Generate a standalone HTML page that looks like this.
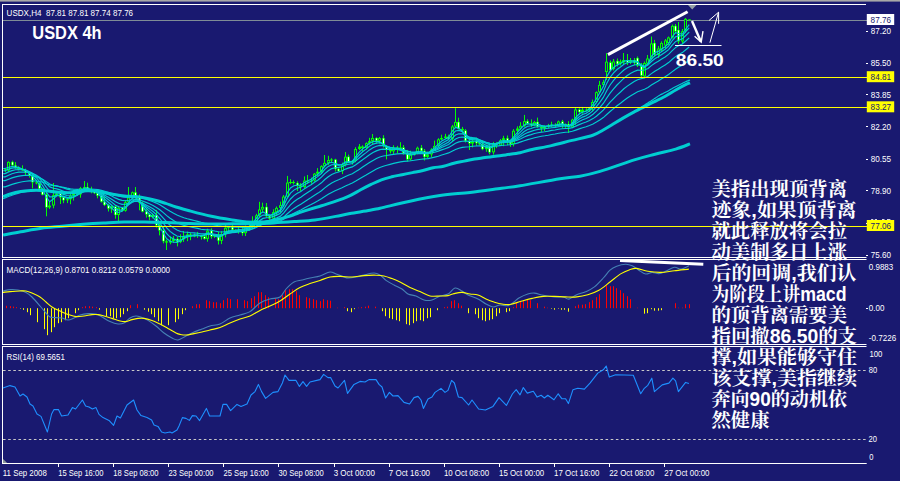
<!DOCTYPE html>
<html><head><meta charset="utf-8"><title>USDX 4h</title>
<style>
html,body{margin:0;padding:0;background:#191970;}
body{width:900px;height:483px;overflow:hidden;position:relative;font-family:"Liberation Sans",sans-serif;}
</style></head><body>
<svg width="900" height="483" viewBox="0 0 900 483" style="position:absolute;left:0;top:0;display:block">
<rect width="900" height="483" fill="#191970"/>
<rect x="0" y="0" width="900" height="1.6" fill="#a8a8a8"/>
<rect x="0" y="481" width="900" height="2" fill="#fff"/>
<g fill="#fff">
<rect x="2" y="4" width="864" height="1"/>
<rect x="2" y="4" width="1" height="254"/>
<rect x="2" y="257" width="864.5" height="1"/>
<rect x="2" y="259" width="864.5" height="1"/>
<rect x="2" y="259" width="1" height="86"/>
<rect x="2" y="344" width="864.5" height="1"/>
<rect x="2" y="346" width="864.5" height="1"/>
<rect x="2" y="346" width="1" height="118"/>
<rect x="2" y="463" width="864.7" height="1"/>
</g>
<path d="M3 459L7.2 463H3Z" fill="#8c9a9a"/>
<rect x="3" y="20" width="864" height="1" fill="#7f8c96"/>
<path d="M5.5 168.3V172.1M8.5 161.3V171.8M12.5 160.7V166.7M15.5 162.1V168.8M18.5 166.2V170.4M22.5 165.3V171.0M25.5 168.7V175.1M29.5 172.1V177.6M32.5 174.1V188.4M36.5 180.5V184.4M39.5 182.4V191.1M42.5 188.0V195.4M46.5 192.0V216.3M49.5 201.7V208.9M53.5 183.0V208.3M56.5 192.6V197.1M60.5 191.8V204.0M63.5 195.7V203.2M67.5 198.0V203.1M70.5 193.8V204.2M73.5 189.7V200.6M77.5 191.8V196.0M80.5 186.9V197.7M84.5 181.0V190.2M87.5 182.7V190.8M91.5 186.7V193.3M94.5 189.9V194.1M97.5 191.6V198.3M101.5 194.7V202.6M104.5 197.3V206.1M108.5 204.1V211.5M111.5 205.5V212.9M115.5 205.1V218.7M118.5 205.9V221.5M122.5 207.2V211.6M125.5 200.1V211.7M128.5 187.0V203.7M132.5 191.5V199.0M135.5 187.0V198.8M139.5 194.4V210.3M142.5 201.6V212.3M146.5 209.3V217.6M149.5 213.6V220.3M152.5 213.7V218.4M156.5 209.9V227.6M159.5 221.5V235.4M163.5 227.0V243.3M166.5 239.6V250.0M170.5 236.4V244.3M173.5 236.0V242.8M177.5 236.8V246.4M180.5 234.3V243.2M183.5 231.0V241.9M187.5 231.6V241.2M190.5 232.7V240.2M194.5 233.4V237.2M197.5 231.9V237.9M201.5 234.8V239.5M204.5 234.8V239.6M207.5 228.7V241.7M211.5 228.3V238.7M214.5 234.6V237.9M218.5 231.5V244.5M221.5 231.1V244.1M225.5 224.6V237.3M228.5 226.1V232.8M232.5 225.0V230.5M235.5 229.1V232.5M238.5 226.5V233.7M242.5 226.8V235.7M245.5 225.5V236.0M249.5 224.0V230.6M252.5 216.3V228.8M256.5 213.8V223.0M259.5 201.8V217.3M262.5 202.7V211.9M266.5 203.0V217.7M269.5 214.0V220.4M273.5 209.3V220.1M276.5 206.5V215.9M280.5 201.6V212.5M283.5 195.0V206.5M287.5 175.9V197.2M290.5 179.2V184.2M293.5 180.4V184.4M297.5 181.3V191.0M300.5 183.1V190.9M304.5 176.4V188.0M307.5 175.0V183.9M311.5 177.6V183.7M314.5 173.0V181.7M317.5 168.1V176.0M321.5 165.2V173.4M324.5 155.0V167.4M328.5 155.8V165.0M331.5 158.2V162.8M335.5 158.8V171.5M338.5 167.2V171.8M342.5 162.6V174.1M345.5 152.0V166.5M348.5 154.6V163.0M352.5 160.0V164.7M355.5 147.2V162.3M359.5 144.0V150.1M362.5 145.3V151.0M366.5 142.3V149.6M369.5 137.8V144.7M372.5 134.0V144.6M376.5 137.2V143.7M379.5 137.0V143.6M383.5 135.2V147.5M386.5 145.0V159.4M390.5 148.1V153.4M393.5 145.3V154.1M397.5 145.9V153.1M400.5 142.2V150.3M403.5 145.1V154.6M407.5 149.9V161.5M410.5 150.7V160.7M414.5 152.0V155.6M417.5 146.6V154.3M421.5 145.0V152.7M424.5 149.0V160.5M427.5 151.7V158.1M431.5 148.2V157.0M434.5 140.6V150.8M438.5 138.2V147.4M441.5 134.7V140.1M445.5 133.8V138.9M448.5 134.7V139.5M452.5 124.9V141.0M455.5 108.2V127.5M458.5 117.7V129.6M462.5 126.9V133.7M465.5 129.1V142.5M469.5 137.7V150.0M472.5 138.7V147.4M476.5 137.6V145.9M479.5 139.8V145.0M482.5 140.5V150.2M486.5 144.7V151.8M489.5 144.6V154.3M493.5 141.9V154.6M496.5 142.2V148.1M500.5 139.0V146.0M503.5 135.8V146.2M507.5 135.5V145.2M510.5 139.6V146.9M513.5 129.1V146.4M517.5 126.3V134.1M520.5 122.2V129.7M524.5 114.9V126.9M527.5 119.3V124.7M531.5 119.4V127.0M534.5 120.9V126.2M537.5 117.6V127.8M541.5 125.5V131.7M544.5 125.2V131.1M548.5 123.9V128.2M551.5 121.7V127.1M555.5 123.2V127.6M558.5 120.6V126.9M562.5 119.9V127.9M565.5 123.4V127.9M568.5 121.2V133.0M572.5 118.7V128.2M575.5 107.6V124.9M579.5 108.3V114.7M582.5 106.9V113.7M586.5 108.3V111.2M589.5 106.9V112.0M592.5 99.6V111.5M596.5 91.4V103.1M599.5 80.9V93.5M603.5 79.8V86.7M606.5 53.1V80.0M610.5 60.5V71.5M613.5 59.0V70.5M617.5 58.5V66.5M620.5 59.5V65.5M623.5 53.0V64.0M627.5 54.0V65.0M630.5 58.0V64.0M634.5 58.0V65.0M637.5 56.5V67.0M641.5 63.0V77.0M644.5 61.5V77.5M647.5 55.0V66.0M651.5 36.5V59.5M654.5 39.9V57.0M658.5 46.0V58.0M661.5 41.4V52.0M665.5 39.0V48.5M668.5 36.5V45.0M672.5 24.5V38.5M675.5 24.0V33.5M678.5 22.0V43.8M682.5 29.0V43.0M685.5 18.0V33.0M689.5 19.4V20.4" stroke="#00ff00" stroke-width="1" fill="none"/>
<g fill="#00ff00">
<rect x="7.0" y="161.9" width="3" height="8.6"/>
<rect x="48.0" y="205.6" width="3" height="1.8"/>
<rect x="52.0" y="195.1" width="3" height="10.4"/>
<rect x="55.0" y="193.5" width="3" height="1.7"/>
<rect x="66.0" y="199.2" width="3" height="1.1"/>
<rect x="69.0" y="195.6" width="3" height="3.6"/>
<rect x="72.0" y="193.4" width="3" height="2.2"/>
<rect x="79.0" y="188.2" width="3" height="6.2"/>
<rect x="83.0" y="187.1" width="3" height="1.1"/>
<rect x="110.0" y="206.5" width="3" height="2.2"/>
<rect x="117.0" y="207.9" width="3" height="7.1"/>
<rect x="124.0" y="202.2" width="3" height="8.5"/>
<rect x="127.0" y="197.5" width="3" height="4.7"/>
<rect x="131.0" y="192.3" width="3" height="5.2"/>
<rect x="151.0" y="214.9" width="3" height="2.2"/>
<rect x="169.0" y="241.0" width="3" height="1.6"/>
<rect x="172.0" y="238.8" width="3" height="2.2"/>
<rect x="179.0" y="239.4" width="3" height="2.7"/>
<rect x="182.0" y="236.9" width="3" height="2.5"/>
<rect x="186.0" y="234.4" width="3" height="2.5"/>
<rect x="193.0" y="234.9" width="3" height="1.6"/>
<rect x="206.0" y="230.7" width="3" height="8.1"/>
<rect x="213.0" y="235.5" width="3" height="1.0"/>
<rect x="220.0" y="234.0" width="3" height="6.8"/>
<rect x="224.0" y="227.8" width="3" height="6.2"/>
<rect x="227.0" y="226.8" width="3" height="1.0"/>
<rect x="237.0" y="230.5" width="3" height="1.0"/>
<rect x="244.0" y="227.2" width="3" height="5.9"/>
<rect x="248.0" y="226.2" width="3" height="1.0"/>
<rect x="251.0" y="221.3" width="3" height="4.9"/>
<rect x="255.0" y="215.4" width="3" height="5.9"/>
<rect x="258.0" y="209.5" width="3" height="5.9"/>
<rect x="261.0" y="206.9" width="3" height="2.6"/>
<rect x="272.0" y="212.1" width="3" height="6.5"/>
<rect x="275.0" y="207.9" width="3" height="4.1"/>
<rect x="279.0" y="205.2" width="3" height="2.7"/>
<rect x="282.0" y="196.6" width="3" height="8.6"/>
<rect x="286.0" y="182.6" width="3" height="13.9"/>
<rect x="289.0" y="182.0" width="3" height="1.0"/>
<rect x="303.0" y="180.6" width="3" height="6.4"/>
<rect x="310.0" y="180.6" width="3" height="1.0"/>
<rect x="313.0" y="173.7" width="3" height="6.8"/>
<rect x="316.0" y="171.7" width="3" height="2.0"/>
<rect x="320.0" y="166.2" width="3" height="5.4"/>
<rect x="323.0" y="162.9" width="3" height="3.4"/>
<rect x="327.0" y="160.1" width="3" height="2.8"/>
<rect x="330.0" y="159.5" width="3" height="1.0"/>
<rect x="341.0" y="164.8" width="3" height="6.3"/>
<rect x="344.0" y="156.7" width="3" height="8.1"/>
<rect x="351.0" y="160.8" width="3" height="1.4"/>
<rect x="354.0" y="149.0" width="3" height="11.7"/>
<rect x="358.0" y="146.5" width="3" height="2.5"/>
<rect x="365.0" y="143.2" width="3" height="4.8"/>
<rect x="368.0" y="141.1" width="3" height="2.1"/>
<rect x="371.0" y="138.0" width="3" height="3.1"/>
<rect x="378.0" y="138.1" width="3" height="2.7"/>
<rect x="392.0" y="147.5" width="3" height="3.8"/>
<rect x="399.0" y="147.5" width="3" height="1.9"/>
<rect x="409.0" y="154.8" width="3" height="4.5"/>
<rect x="413.0" y="152.6" width="3" height="2.2"/>
<rect x="416.0" y="147.8" width="3" height="4.8"/>
<rect x="426.0" y="154.4" width="3" height="2.5"/>
<rect x="430.0" y="149.5" width="3" height="4.9"/>
<rect x="433.0" y="145.9" width="3" height="3.6"/>
<rect x="437.0" y="139.4" width="3" height="6.4"/>
<rect x="440.0" y="138.0" width="3" height="1.4"/>
<rect x="444.0" y="136.6" width="3" height="1.4"/>
<rect x="451.0" y="126.5" width="3" height="12.3"/>
<rect x="454.0" y="121.9" width="3" height="4.6"/>
<rect x="471.0" y="140.9" width="3" height="2.6"/>
<rect x="485.0" y="146.9" width="3" height="2.2"/>
<rect x="492.0" y="144.3" width="3" height="8.0"/>
<rect x="499.0" y="140.4" width="3" height="5.0"/>
<rect x="502.0" y="138.2" width="3" height="2.2"/>
<rect x="512.0" y="130.8" width="3" height="13.1"/>
<rect x="516.0" y="128.5" width="3" height="2.3"/>
<rect x="519.0" y="125.8" width="3" height="2.6"/>
<rect x="523.0" y="121.2" width="3" height="4.7"/>
<rect x="533.0" y="121.9" width="3" height="3.5"/>
<rect x="543.0" y="126.7" width="3" height="1.8"/>
<rect x="547.0" y="125.7" width="3" height="1.0"/>
<rect x="550.0" y="124.7" width="3" height="1.0"/>
<rect x="557.0" y="121.5" width="3" height="4.2"/>
<rect x="564.0" y="124.1" width="3" height="1.0"/>
<rect x="571.0" y="119.6" width="3" height="7.7"/>
<rect x="574.0" y="109.5" width="3" height="10.1"/>
<rect x="581.0" y="109.7" width="3" height="2.3"/>
<rect x="588.0" y="108.1" width="3" height="2.3"/>
<rect x="591.0" y="102.0" width="3" height="6.1"/>
<rect x="595.0" y="92.2" width="3" height="9.7"/>
<rect x="598.0" y="84.9" width="3" height="7.3"/>
<rect x="602.0" y="82.2" width="3" height="2.7"/>
<rect x="605.0" y="61.7" width="3" height="10.3"/>
<rect x="612.0" y="61.5" width="3" height="7.5"/>
<rect x="619.0" y="61.5" width="3" height="2.0"/>
<rect x="622.0" y="60.0" width="3" height="2.5"/>
<rect x="629.0" y="60.0" width="3" height="2.5"/>
<rect x="643.0" y="63.0" width="3" height="13.4"/>
<rect x="646.0" y="58.5" width="3" height="5.0"/>
<rect x="650.0" y="43.5" width="3" height="14.9"/>
<rect x="657.0" y="48.5" width="3" height="6.5"/>
<rect x="660.0" y="43.0" width="3" height="6.5"/>
<rect x="664.0" y="40.5" width="3" height="5.0"/>
<rect x="667.0" y="37.5" width="3" height="5.5"/>
<rect x="671.0" y="25.9" width="3" height="11.6"/>
<rect x="681.0" y="31.3" width="3" height="10.1"/>
<rect x="684.0" y="18.9" width="3" height="12.1"/>
<rect x="688.0" y="19.4" width="3" height="1.0"/>
<rect x="4.0" y="169.4" width="3" height="1.1"/>
<rect x="11.0" y="161.9" width="3" height="3.3"/>
<rect x="14.0" y="165.3" width="3" height="2.2"/>
<rect x="17.0" y="167.5" width="3" height="1.4"/>
<rect x="21.0" y="168.9" width="3" height="1.4"/>
<rect x="24.0" y="170.3" width="3" height="2.4"/>
<rect x="28.0" y="172.7" width="3" height="2.8"/>
<rect x="31.0" y="175.4" width="3" height="6.9"/>
<rect x="35.0" y="182.4" width="3" height="1.0"/>
<rect x="38.0" y="183.4" width="3" height="5.3"/>
<rect x="41.0" y="188.6" width="3" height="6.2"/>
<rect x="45.0" y="194.8" width="3" height="12.6"/>
<rect x="59.0" y="193.5" width="3" height="3.9"/>
<rect x="62.0" y="197.3" width="3" height="3.0"/>
<rect x="76.0" y="193.4" width="3" height="1.0"/>
<rect x="86.0" y="187.1" width="3" height="2.2"/>
<rect x="90.0" y="189.3" width="3" height="1.6"/>
<rect x="93.0" y="191.0" width="3" height="2.1"/>
<rect x="96.0" y="193.1" width="3" height="2.6"/>
<rect x="100.0" y="195.7" width="3" height="6.0"/>
<rect x="103.0" y="201.7" width="3" height="3.3"/>
<rect x="107.0" y="205.0" width="3" height="3.6"/>
<rect x="114.0" y="206.5" width="3" height="8.5"/>
<rect x="121.0" y="207.9" width="3" height="2.8"/>
<rect x="134.0" y="192.3" width="3" height="4.4"/>
<rect x="138.0" y="196.7" width="3" height="6.1"/>
<rect x="141.0" y="202.9" width="3" height="8.7"/>
<rect x="145.0" y="211.5" width="3" height="2.9"/>
<rect x="148.0" y="214.4" width="3" height="2.6"/>
<rect x="155.0" y="214.9" width="3" height="10.5"/>
<rect x="158.0" y="225.3" width="3" height="5.2"/>
<rect x="162.0" y="230.6" width="3" height="10.6"/>
<rect x="165.0" y="241.2" width="3" height="1.4"/>
<rect x="176.0" y="238.8" width="3" height="3.3"/>
<rect x="189.0" y="234.4" width="3" height="2.1"/>
<rect x="196.0" y="234.9" width="3" height="1.0"/>
<rect x="200.0" y="235.9" width="3" height="1.0"/>
<rect x="203.0" y="236.5" width="3" height="2.3"/>
<rect x="210.0" y="230.7" width="3" height="5.8"/>
<rect x="217.0" y="235.5" width="3" height="5.2"/>
<rect x="231.0" y="226.8" width="3" height="3.0"/>
<rect x="234.0" y="229.8" width="3" height="1.6"/>
<rect x="241.0" y="230.5" width="3" height="2.6"/>
<rect x="265.0" y="206.9" width="3" height="9.3"/>
<rect x="268.0" y="216.1" width="3" height="2.5"/>
<rect x="292.0" y="182.0" width="3" height="1.0"/>
<rect x="296.0" y="183.0" width="3" height="2.3"/>
<rect x="299.0" y="185.4" width="3" height="1.6"/>
<rect x="306.0" y="180.6" width="3" height="1.0"/>
<rect x="334.0" y="159.5" width="3" height="9.4"/>
<rect x="337.0" y="168.9" width="3" height="2.2"/>
<rect x="347.0" y="156.7" width="3" height="5.5"/>
<rect x="361.0" y="146.5" width="3" height="1.6"/>
<rect x="375.0" y="138.0" width="3" height="2.8"/>
<rect x="382.0" y="138.1" width="3" height="7.6"/>
<rect x="385.0" y="145.7" width="3" height="3.8"/>
<rect x="389.0" y="149.5" width="3" height="1.8"/>
<rect x="396.0" y="147.5" width="3" height="1.9"/>
<rect x="402.0" y="147.5" width="3" height="5.7"/>
<rect x="406.0" y="153.3" width="3" height="6.1"/>
<rect x="420.0" y="147.8" width="3" height="3.1"/>
<rect x="423.0" y="150.9" width="3" height="6.0"/>
<rect x="447.0" y="136.6" width="3" height="2.2"/>
<rect x="457.0" y="121.9" width="3" height="7.0"/>
<rect x="461.0" y="128.9" width="3" height="1.6"/>
<rect x="464.0" y="130.5" width="3" height="10.4"/>
<rect x="468.0" y="140.9" width="3" height="2.6"/>
<rect x="475.0" y="140.9" width="3" height="2.2"/>
<rect x="478.0" y="143.1" width="3" height="1.2"/>
<rect x="481.0" y="144.4" width="3" height="4.7"/>
<rect x="488.0" y="146.9" width="3" height="5.5"/>
<rect x="495.0" y="144.3" width="3" height="1.0"/>
<rect x="506.0" y="138.2" width="3" height="3.5"/>
<rect x="509.0" y="141.7" width="3" height="2.2"/>
<rect x="526.0" y="121.2" width="3" height="2.4"/>
<rect x="530.0" y="123.5" width="3" height="1.9"/>
<rect x="536.0" y="121.9" width="3" height="4.9"/>
<rect x="540.0" y="126.9" width="3" height="1.6"/>
<rect x="554.0" y="124.7" width="3" height="1.0"/>
<rect x="561.0" y="121.5" width="3" height="3.6"/>
<rect x="567.0" y="124.1" width="3" height="3.2"/>
<rect x="578.0" y="109.5" width="3" height="2.6"/>
<rect x="585.0" y="109.7" width="3" height="1.0"/>
<rect x="609.0" y="62.4" width="3" height="7.8"/>
<rect x="616.0" y="61.0" width="3" height="3.0"/>
<rect x="626.0" y="60.5" width="3" height="2.0"/>
<rect x="633.0" y="60.2" width="3" height="2.6"/>
<rect x="636.0" y="58.0" width="3" height="7.5"/>
<rect x="640.0" y="65.5" width="3" height="10.1"/>
<rect x="653.0" y="43.0" width="3" height="11.7"/>
<rect x="674.0" y="25.9" width="3" height="5.4"/>
<rect x="677.0" y="30.0" width="3" height="11.4"/>
</g>
<g fill="#191970">
<rect x="8.0" y="162.8" width="1" height="6.8"/>
<rect x="53.0" y="196.0" width="1" height="8.6"/>
<rect x="70.0" y="196.5" width="1" height="1.8"/>
<rect x="80.0" y="189.1" width="1" height="4.4"/>
<rect x="118.0" y="208.8" width="1" height="5.3"/>
<rect x="125.0" y="203.1" width="1" height="6.7"/>
<rect x="128.0" y="198.4" width="1" height="2.9"/>
<rect x="132.0" y="193.2" width="1" height="3.4"/>
<rect x="180.0" y="240.3" width="1" height="0.9"/>
<rect x="207.0" y="231.6" width="1" height="6.3"/>
<rect x="221.0" y="234.9" width="1" height="5.0"/>
<rect x="225.0" y="228.7" width="1" height="4.4"/>
<rect x="245.0" y="228.1" width="1" height="4.1"/>
<rect x="252.0" y="222.2" width="1" height="3.1"/>
<rect x="256.0" y="216.3" width="1" height="4.1"/>
<rect x="259.0" y="210.4" width="1" height="4.1"/>
<rect x="262.0" y="207.8" width="1" height="0.8"/>
<rect x="273.0" y="213.0" width="1" height="4.7"/>
<rect x="276.0" y="208.8" width="1" height="2.3"/>
<rect x="280.0" y="206.1" width="1" height="0.9"/>
<rect x="283.0" y="197.5" width="1" height="6.8"/>
<rect x="287.0" y="183.5" width="1" height="12.1"/>
<rect x="304.0" y="181.5" width="1" height="4.6"/>
<rect x="314.0" y="174.6" width="1" height="5.0"/>
<rect x="321.0" y="167.1" width="1" height="3.6"/>
<rect x="324.0" y="163.8" width="1" height="1.6"/>
<rect x="328.0" y="161.0" width="1" height="1.0"/>
<rect x="342.0" y="165.7" width="1" height="4.5"/>
<rect x="345.0" y="157.6" width="1" height="6.3"/>
<rect x="355.0" y="149.9" width="1" height="9.9"/>
<rect x="366.0" y="144.1" width="1" height="3.0"/>
<rect x="372.0" y="138.9" width="1" height="1.3"/>
<rect x="379.0" y="139.0" width="1" height="0.9"/>
<rect x="393.0" y="148.4" width="1" height="2.0"/>
<rect x="410.0" y="155.7" width="1" height="2.7"/>
<rect x="417.0" y="148.7" width="1" height="3.0"/>
<rect x="431.0" y="150.4" width="1" height="3.1"/>
<rect x="434.0" y="146.8" width="1" height="1.8"/>
<rect x="438.0" y="140.3" width="1" height="4.6"/>
<rect x="452.0" y="127.4" width="1" height="10.5"/>
<rect x="455.0" y="122.8" width="1" height="2.8"/>
<rect x="493.0" y="145.2" width="1" height="6.2"/>
<rect x="500.0" y="141.3" width="1" height="3.2"/>
<rect x="513.0" y="131.7" width="1" height="11.3"/>
<rect x="520.0" y="126.7" width="1" height="0.8"/>
<rect x="524.0" y="122.1" width="1" height="2.9"/>
<rect x="534.0" y="122.8" width="1" height="1.7"/>
<rect x="558.0" y="122.4" width="1" height="2.4"/>
<rect x="572.0" y="120.5" width="1" height="5.9"/>
<rect x="575.0" y="110.4" width="1" height="8.3"/>
<rect x="592.0" y="102.9" width="1" height="4.3"/>
<rect x="596.0" y="93.1" width="1" height="7.9"/>
<rect x="599.0" y="85.8" width="1" height="5.5"/>
<rect x="603.0" y="83.1" width="1" height="0.9"/>
<rect x="606.0" y="62.6" width="1" height="8.5"/>
<rect x="613.0" y="62.4" width="1" height="5.7"/>
<rect x="644.0" y="63.9" width="1" height="11.6"/>
<rect x="647.0" y="59.4" width="1" height="3.2"/>
<rect x="651.0" y="44.4" width="1" height="13.1"/>
<rect x="658.0" y="49.4" width="1" height="4.7"/>
<rect x="661.0" y="43.9" width="1" height="4.7"/>
<rect x="665.0" y="41.4" width="1" height="3.2"/>
<rect x="668.0" y="38.4" width="1" height="3.7"/>
<rect x="672.0" y="26.8" width="1" height="9.8"/>
<rect x="682.0" y="32.2" width="1" height="8.3"/>
<rect x="685.0" y="19.8" width="1" height="10.3"/>
</g>
<g fill="#fff">
<rect x="12.0" y="162.4" width="1" height="2.3"/>
<rect x="15.0" y="165.8" width="1" height="1.2"/>
<rect x="25.0" y="170.8" width="1" height="1.4"/>
<rect x="29.0" y="173.2" width="1" height="1.8"/>
<rect x="32.0" y="175.9" width="1" height="5.9"/>
<rect x="39.0" y="183.9" width="1" height="4.3"/>
<rect x="42.0" y="189.1" width="1" height="5.2"/>
<rect x="46.0" y="195.3" width="1" height="11.6"/>
<rect x="60.0" y="194.0" width="1" height="2.9"/>
<rect x="63.0" y="197.8" width="1" height="2.0"/>
<rect x="87.0" y="187.6" width="1" height="1.2"/>
<rect x="94.0" y="191.5" width="1" height="1.1"/>
<rect x="97.0" y="193.6" width="1" height="1.6"/>
<rect x="101.0" y="196.2" width="1" height="5.0"/>
<rect x="104.0" y="202.2" width="1" height="2.3"/>
<rect x="108.0" y="205.5" width="1" height="2.6"/>
<rect x="115.0" y="207.0" width="1" height="7.5"/>
<rect x="122.0" y="208.4" width="1" height="1.8"/>
<rect x="135.0" y="192.8" width="1" height="3.4"/>
<rect x="139.0" y="197.2" width="1" height="5.1"/>
<rect x="142.0" y="203.4" width="1" height="7.7"/>
<rect x="146.0" y="212.0" width="1" height="1.9"/>
<rect x="149.0" y="214.9" width="1" height="1.6"/>
<rect x="156.0" y="215.4" width="1" height="9.5"/>
<rect x="159.0" y="225.8" width="1" height="4.2"/>
<rect x="163.0" y="231.1" width="1" height="9.6"/>
<rect x="177.0" y="239.3" width="1" height="2.3"/>
<rect x="190.0" y="234.9" width="1" height="1.1"/>
<rect x="204.0" y="237.0" width="1" height="1.3"/>
<rect x="211.0" y="231.2" width="1" height="4.8"/>
<rect x="218.0" y="236.0" width="1" height="4.2"/>
<rect x="232.0" y="227.3" width="1" height="2.0"/>
<rect x="242.0" y="231.0" width="1" height="1.6"/>
<rect x="266.0" y="207.4" width="1" height="8.3"/>
<rect x="269.0" y="216.6" width="1" height="1.5"/>
<rect x="297.0" y="183.5" width="1" height="1.3"/>
<rect x="335.0" y="160.0" width="1" height="8.4"/>
<rect x="338.0" y="169.4" width="1" height="1.2"/>
<rect x="348.0" y="157.2" width="1" height="4.5"/>
<rect x="376.0" y="138.5" width="1" height="1.8"/>
<rect x="383.0" y="138.6" width="1" height="6.6"/>
<rect x="386.0" y="146.2" width="1" height="2.8"/>
<rect x="397.0" y="148.0" width="1" height="0.9"/>
<rect x="403.0" y="148.0" width="1" height="4.7"/>
<rect x="407.0" y="153.8" width="1" height="5.1"/>
<rect x="421.0" y="148.3" width="1" height="2.1"/>
<rect x="424.0" y="151.4" width="1" height="5.0"/>
<rect x="448.0" y="137.1" width="1" height="1.2"/>
<rect x="458.0" y="122.4" width="1" height="6.0"/>
<rect x="465.0" y="131.0" width="1" height="9.4"/>
<rect x="469.0" y="141.4" width="1" height="1.6"/>
<rect x="476.0" y="141.4" width="1" height="1.2"/>
<rect x="482.0" y="144.9" width="1" height="3.7"/>
<rect x="489.0" y="147.4" width="1" height="4.5"/>
<rect x="507.0" y="138.7" width="1" height="2.5"/>
<rect x="510.0" y="142.2" width="1" height="1.2"/>
<rect x="527.0" y="121.7" width="1" height="1.4"/>
<rect x="531.0" y="124.0" width="1" height="0.9"/>
<rect x="537.0" y="122.4" width="1" height="3.9"/>
<rect x="562.0" y="122.0" width="1" height="2.6"/>
<rect x="568.0" y="124.6" width="1" height="2.2"/>
<rect x="579.0" y="110.0" width="1" height="1.6"/>
<rect x="610.0" y="62.9" width="1" height="6.8"/>
<rect x="617.0" y="61.5" width="1" height="2.0"/>
<rect x="627.0" y="61.0" width="1" height="1.0"/>
<rect x="634.0" y="60.7" width="1" height="1.6"/>
<rect x="637.0" y="58.5" width="1" height="6.5"/>
<rect x="641.0" y="66.0" width="1" height="9.1"/>
<rect x="654.0" y="43.5" width="1" height="10.7"/>
<rect x="675.0" y="26.4" width="1" height="4.4"/>
<rect x="678.0" y="30.5" width="1" height="10.4"/>
</g>
<path d="M3.1 235.0C6.0 234.5 14.3 232.9 20.7 231.8C27.1 230.7 34.5 229.2 41.4 228.3C48.3 227.4 55.2 226.9 62.1 226.2C69.0 225.5 76.0 224.8 82.9 224.2C89.8 223.6 96.7 223.2 103.6 222.9C110.5 222.6 117.4 222.2 124.3 222.1C131.2 222.0 138.1 222.0 145.0 222.1C151.9 222.2 158.1 222.3 165.7 222.5C173.3 222.7 183.1 223.2 190.7 223.5C198.3 223.8 204.5 223.9 211.4 224.0C218.3 224.1 225.2 223.9 232.1 223.8C239.0 223.7 246.0 223.8 252.9 223.6C259.8 223.4 266.7 223.2 273.6 222.9C280.5 222.6 287.4 222.1 294.3 221.6C301.2 221.1 308.1 220.8 315.0 219.9C321.9 219.0 329.9 217.5 335.7 216.4C341.5 215.3 344.3 214.6 350.0 213.6C355.7 212.6 365.0 211.2 370.0 210.3C375.0 209.4 373.3 209.7 380.0 208.2C386.7 206.7 400.0 203.3 410.0 201.2C420.0 199.1 430.0 197.1 440.0 195.6C450.0 194.1 459.7 193.6 470.0 192.4C480.3 191.2 493.3 189.3 501.6 188.2C509.9 187.1 510.3 187.4 520.0 185.8C529.7 184.2 550.0 180.4 560.0 178.8C570.0 177.2 573.3 177.4 580.0 176.2C586.7 175.0 591.0 174.1 600.0 171.4C609.0 168.7 625.1 162.8 634.3 159.9C643.5 157.0 648.1 156.0 655.0 154.2C661.9 152.4 669.9 150.8 675.7 149.1C681.5 147.4 687.6 144.8 690.0 143.9" fill="none" stroke="#00ced1" stroke-width="3" stroke-linecap="butt"/>
<path d="M3.1 196.6C4.3 196.2 7.5 194.8 10.4 193.9C13.3 193.0 17.3 192.0 20.7 191.4C24.1 190.8 27.6 190.6 31.0 190.4C34.5 190.2 37.9 190.2 41.4 190.4C44.9 190.6 48.3 191.1 51.8 191.4C55.2 191.8 58.6 192.3 62.1 192.5C65.5 192.7 69.0 192.8 72.5 192.5C76.0 192.2 79.5 191.2 82.9 191.0C86.4 190.8 89.8 190.8 93.2 191.0C96.7 191.2 100.1 191.9 103.6 192.5C107.0 193.1 110.5 193.9 113.9 194.5C117.4 195.1 120.8 195.7 124.3 196.0C127.8 196.3 131.2 196.3 134.6 196.6C138.0 196.9 141.6 197.4 145.0 198.0C148.4 198.6 151.9 199.4 155.3 200.3C158.8 201.2 162.2 202.3 165.7 203.4C169.1 204.5 171.8 205.7 176.0 207.0C180.2 208.3 184.8 209.5 190.7 211.1C196.6 212.7 204.5 214.8 211.4 216.3C218.3 217.8 226.2 219.0 232.1 219.9C238.0 220.8 241.6 221.7 246.6 222.0C251.6 222.3 258.2 222.1 262.1 222.0C266.0 221.9 267.3 221.6 269.9 221.2C272.5 220.8 275.0 220.0 277.6 219.4C280.2 218.8 282.8 218.1 285.4 217.4C288.0 216.7 290.6 215.9 293.2 215.0C295.8 214.1 298.3 213.1 300.9 212.2C303.5 211.3 306.1 210.4 308.7 209.6C311.3 208.8 313.7 208.1 316.5 207.3C319.3 206.5 322.6 205.4 325.3 204.6C328.1 203.8 330.3 203.1 333.0 202.2C335.7 201.3 338.7 200.3 341.5 199.2C344.3 198.1 346.8 197.3 350.0 195.7C353.2 194.1 357.2 191.7 360.7 189.8C364.2 187.9 367.7 186.1 371.1 184.4C374.6 182.8 377.9 181.2 381.4 179.9C384.8 178.6 388.4 177.7 391.8 176.8C395.2 175.9 398.7 175.4 402.1 174.7C405.6 174.0 409.0 173.3 412.5 172.6C416.0 171.9 419.4 171.3 422.9 170.5C426.3 169.7 429.8 168.5 433.2 167.8C436.6 167.1 440.2 167.1 443.6 166.3C447.1 165.5 450.4 164.1 453.9 163.2C457.3 162.3 460.9 161.8 464.3 161.1C467.8 160.4 471.2 159.6 474.6 159.0C478.1 158.4 481.6 158.1 485.0 157.6C488.4 157.1 491.9 156.8 495.3 156.3C498.8 155.8 501.6 155.5 505.7 154.9C509.8 154.3 515.8 153.7 520.0 152.8C524.2 151.9 525.5 150.9 530.7 149.7C535.9 148.5 544.5 147.2 551.4 145.6C558.3 144.0 565.2 142.1 572.1 140.4C579.0 138.7 587.6 136.9 592.8 135.2C598.0 133.5 599.7 131.9 603.2 130.0C606.7 128.1 610.2 125.9 613.6 123.8C617.0 121.7 620.5 119.6 623.9 117.6C627.3 115.6 630.8 113.6 634.3 111.8C637.8 110.0 641.1 108.3 644.6 106.6C648.1 104.9 651.5 103.1 655.0 101.4C658.5 99.7 661.8 98.1 665.3 96.2C668.8 94.3 672.2 92.0 675.7 90.0C679.2 88.0 683.6 85.6 686.0 84.4C688.4 83.2 689.3 83.1 690.0 82.8" fill="none" stroke="#00ced1" stroke-width="3"/>
<path d="M3.0 198.8C3.5 198.6 5.0 198.0 6.0 197.6C7.0 197.1 8.0 196.7 9.0 196.3C10.0 195.9 11.0 195.5 12.0 195.2C13.0 194.9 14.0 194.6 15.0 194.3C16.0 194.0 17.0 193.7 18.0 193.4C19.0 193.1 20.0 192.7 21.0 192.5C22.0 192.3 23.0 192.2 24.0 192.0C25.0 191.8 26.0 191.6 27.0 191.5C28.0 191.3 29.0 191.1 30.0 190.9C31.0 190.8 32.0 190.7 33.0 190.6C34.0 190.5 35.0 190.4 36.0 190.4C37.0 190.4 38.0 190.4 39.0 190.4C40.0 190.4 41.0 190.4 42.0 190.5C43.0 190.5 44.0 190.7 45.0 190.7C46.0 190.8 47.0 190.9 48.0 191.0C49.0 191.1 50.0 191.2 51.0 191.3C52.0 191.4 53.0 191.5 54.0 191.6C55.0 191.7 56.0 191.8 57.0 192.0C58.0 192.1 59.0 192.2 60.0 192.3C61.0 192.4 62.0 192.5 63.0 192.5C64.0 192.5 65.0 192.5 66.0 192.5C67.0 192.5 68.0 192.5 69.0 192.5C70.0 192.5 71.0 192.6 72.0 192.5C73.0 192.4 74.0 192.3 75.0 192.1C76.0 192.0 77.0 191.9 78.0 191.7C79.0 191.6 80.0 191.4 81.0 191.3C82.0 191.2 83.0 191.0 84.0 191.0C85.0 191.0 86.0 191.0 87.0 191.0C88.0 191.0 89.0 191.0 90.0 191.0C91.0 191.0 92.0 190.9 93.0 191.0C94.0 191.1 95.0 191.3 96.0 191.4C97.0 191.5 98.0 191.7 99.0 191.8C100.0 192.0 101.0 192.1 102.0 192.3C103.0 192.4 104.0 192.6 105.0 192.8C106.0 193.0 107.0 193.2 108.0 193.4C109.0 193.5 110.0 193.7 111.0 193.9C112.0 194.1 113.0 194.3 114.0 194.5C115.0 194.7 116.0 194.8 117.0 194.9C118.0 195.1 119.0 195.2 120.0 195.4C121.0 195.5 122.0 195.7 123.0 195.8C124.0 195.9 125.0 196.0 126.0 196.1C127.0 196.2 128.0 196.2 129.0 196.3C130.0 196.3 131.0 196.4 132.0 196.4C133.0 196.5 134.0 196.6 135.0 196.7C136.0 196.8 137.0 196.9 138.0 197.1C139.0 197.2 140.0 197.3 141.0 197.5C142.0 197.6 143.0 197.7 144.0 197.9C145.0 198.0 146.0 198.2 147.0 198.4C148.0 198.7 149.0 198.9 150.0 199.1C151.0 199.3 152.0 199.6 153.0 199.8C154.0 200.0 155.0 200.2 156.0 200.5C157.0 200.8 158.0 201.1 159.0 201.4C160.0 201.7 161.0 202.0 162.0 202.3C163.0 202.6 164.0 202.9 165.0 203.2C166.0 203.5 167.0 203.9 168.0 204.2C169.0 204.5 170.0 204.9 171.0 205.3C172.0 205.6 173.0 206.0 174.0 206.3C175.0 206.6 176.0 207.0 177.0 207.3C178.0 207.6 179.0 207.8 180.0 208.1C181.0 208.4 182.0 208.7 183.0 209.0C184.0 209.2 185.0 209.5 186.0 209.8C187.0 210.1 188.0 210.4 189.0 210.6C190.0 210.9 191.0 211.2 192.0 211.4C193.0 211.7 194.0 211.9 195.0 212.2C196.0 212.4 197.0 212.7 198.0 212.9C199.0 213.2 200.0 213.4 201.0 213.7C202.0 213.9 203.0 214.2 204.0 214.4C205.0 214.7 206.0 214.9 207.0 215.2C208.0 215.4 209.0 215.7 210.0 215.9C211.0 216.2 212.0 216.4 213.0 216.6C214.0 216.8 215.0 216.9 216.0 217.1C217.0 217.3 218.0 217.4 219.0 217.6C220.0 217.8 221.0 218.0 222.0 218.1C223.0 218.3 224.0 218.5 225.0 218.7C226.0 218.8 227.0 219.0 228.0 219.2C229.0 219.4 230.0 219.5 231.0 219.7C232.0 219.9 233.0 220.0 234.0 220.2C235.0 220.3 236.0 220.5 237.0 220.6C238.0 220.8 239.0 220.9 240.0 221.0C241.0 221.2 242.0 221.3 243.0 221.5C244.0 221.6 245.0 221.8 246.0 221.9C247.0 222.0 248.0 222.0 249.0 222.0C250.0 222.0 251.0 222.0 252.0 222.0C253.0 222.0 254.0 222.0 255.0 222.0C256.0 222.0 257.0 222.0 258.0 222.0C259.0 222.0 260.0 222.0 261.0 222.0C262.0 222.0 263.0 221.9 264.0 221.8C265.0 221.7 266.0 221.6 267.0 221.5C268.0 221.4 269.0 221.3 270.0 221.2C271.0 221.0 272.0 220.7 273.0 220.5C274.0 220.2 275.0 220.0 276.0 219.8C277.0 219.5 278.0 219.3 279.0 219.0C280.0 218.8 281.0 218.5 282.0 218.3C283.0 218.0 284.0 217.8 285.0 217.5C286.0 217.2 287.0 216.9 288.0 216.6C289.0 216.3 290.0 216.0 291.0 215.7C292.0 215.4 293.0 215.1 294.0 214.7C295.0 214.4 296.0 214.0 297.0 213.6C298.0 213.3 299.0 212.9 300.0 212.5C301.0 212.2 302.0 211.8 303.0 211.5C304.0 211.2 305.0 210.8 306.0 210.5C307.0 210.2 308.0 209.8 309.0 209.5C310.0 209.2 311.0 208.9 312.0 208.6C313.0 208.3 314.0 208.0 315.0 207.7C316.0 207.4 317.0 207.1 318.0 206.8C319.0 206.5 320.0 206.2 321.0 205.9C322.0 205.6 323.0 205.3 324.0 205.0C325.0 204.7 326.0 204.4 327.0 204.1C328.0 203.8 329.0 203.4 330.0 203.1C331.0 202.8 332.0 202.5 333.0 202.2C334.0 201.9 335.0 201.5 336.0 201.1C337.0 200.8 338.0 200.4 339.0 200.1C340.0 199.7 341.0 199.4 342.0 199.0C343.0 198.6 344.0 198.2 345.0 197.8C346.0 197.3 347.0 197.0 348.0 196.5C349.0 196.1 350.0 195.7 351.0 195.1C352.0 194.6 353.0 194.0 354.0 193.5C355.0 192.9 356.0 192.4 357.0 191.8C358.0 191.3 359.0 190.7 360.0 190.2C361.0 189.6 362.0 189.1 363.0 188.6C364.0 188.1 365.0 187.6 366.0 187.0C367.0 186.5 368.0 186.0 369.0 185.5C370.0 185.0 371.0 184.5 372.0 184.0C373.0 183.5 374.0 183.1 375.0 182.7C376.0 182.3 377.0 181.8 378.0 181.4C379.0 180.9 380.0 180.5 381.0 180.1C382.0 179.7 383.0 179.4 384.0 179.1C385.0 178.8 386.0 178.5 387.0 178.2C388.0 177.9 389.0 177.6 390.0 177.3C391.0 177.1 392.0 176.8 393.0 176.6C394.0 176.3 395.0 176.1 396.0 175.9C397.0 175.7 398.0 175.5 399.0 175.3C400.0 175.1 401.0 174.9 402.0 174.7C403.0 174.5 404.0 174.3 405.0 174.1C406.0 173.9 407.0 173.7 408.0 173.5C409.0 173.3 410.0 173.1 411.0 172.9C412.0 172.7 413.0 172.5 414.0 172.3C415.0 172.1 416.0 171.9 417.0 171.7C418.0 171.5 419.0 171.3 420.0 171.1C421.0 170.9 422.0 170.7 423.0 170.5C424.0 170.2 425.0 169.9 426.0 169.7C427.0 169.4 428.0 169.2 429.0 168.9C430.0 168.6 431.0 168.3 432.0 168.1C433.0 167.9 434.0 167.7 435.0 167.5C436.0 167.4 437.0 167.3 438.0 167.1C439.0 167.0 440.0 166.8 441.0 166.7C442.0 166.5 443.0 166.4 444.0 166.2C445.0 165.9 446.0 165.6 447.0 165.3C448.0 165.0 449.0 164.7 450.0 164.4C451.0 164.1 452.0 163.7 453.0 163.5C454.0 163.2 455.0 163.0 456.0 162.8C457.0 162.6 458.0 162.4 459.0 162.2C460.0 162.0 461.0 161.8 462.0 161.6C463.0 161.4 464.0 161.2 465.0 161.0C466.0 160.8 467.0 160.5 468.0 160.3C469.0 160.1 470.0 159.9 471.0 159.7C472.0 159.5 473.0 159.3 474.0 159.1C475.0 158.9 476.0 158.8 477.0 158.7C478.0 158.5 479.0 158.4 480.0 158.3C481.0 158.1 482.0 158.0 483.0 157.9C484.0 157.7 485.0 157.6 486.0 157.5C487.0 157.3 488.0 157.2 489.0 157.1C490.0 157.0 491.0 156.8 492.0 156.7C493.0 156.6 494.0 156.5 495.0 156.3C496.0 156.2 497.0 156.1 498.0 155.9C499.0 155.8 500.0 155.7 501.0 155.5C502.0 155.4 503.0 155.3 504.0 155.1C505.0 155.0 506.0 154.9 507.0 154.7C508.0 154.6 509.0 154.4 510.0 154.3C511.0 154.1 512.0 154.0 513.0 153.8C514.0 153.7 515.0 153.5 516.0 153.4C517.0 153.2 518.0 153.1 519.0 152.9C520.0 152.8 521.0 152.5 522.0 152.2C523.0 152.0 524.0 151.6 525.0 151.4C526.0 151.1 527.0 150.8 528.0 150.5C529.0 150.2 530.0 149.9 531.0 149.6C532.0 149.4 533.0 149.2 534.0 149.0C535.0 148.8 536.0 148.7 537.0 148.5C538.0 148.3 539.0 148.1 540.0 147.9C541.0 147.7 542.0 147.5 543.0 147.3C544.0 147.1 545.0 146.9 546.0 146.7C547.0 146.5 548.0 146.3 549.0 146.1C550.0 145.9 551.0 145.7 552.0 145.4C553.0 145.2 554.0 144.9 555.0 144.7C556.0 144.4 557.0 144.2 558.0 143.9C559.0 143.7 560.0 143.4 561.0 143.2C562.0 142.9 563.0 142.7 564.0 142.4C565.0 142.2 566.0 141.9 567.0 141.7C568.0 141.4 569.0 141.2 570.0 140.9C571.0 140.7 572.0 140.4 573.0 140.2C574.0 139.9 575.0 139.7 576.0 139.4C577.0 139.2 578.0 138.9 579.0 138.7C580.0 138.4 581.0 138.2 582.0 137.9C583.0 137.7 584.0 137.4 585.0 137.2C586.0 136.9 587.0 136.7 588.0 136.4C589.0 136.2 590.0 136.0 591.0 135.7C592.0 135.4 593.0 135.0 594.0 134.6C595.0 134.2 596.0 133.6 597.0 133.1C598.0 132.6 599.0 132.1 600.0 131.6C601.0 131.1 602.0 130.6 603.0 130.1C604.0 129.6 605.0 128.9 606.0 128.3C607.0 127.7 608.0 127.1 609.0 126.5C610.0 125.9 611.0 125.4 612.0 124.8C613.0 124.2 614.0 123.6 615.0 123.0C616.0 122.4 617.0 121.8 618.0 121.2C619.0 120.5 620.0 119.9 621.0 119.3C622.0 118.7 623.0 118.1 624.0 117.5C625.0 117.0 626.0 116.5 627.0 115.9C628.0 115.3 629.0 114.7 630.0 114.0C631.0 113.4 632.0 112.7 633.0 112.1C634.0 111.5 635.0 110.9 636.0 110.3C637.0 109.7 638.0 109.1 639.0 108.5C640.0 107.9 641.0 107.3 642.0 106.6C643.0 106.0 644.0 105.3 645.0 104.7C646.0 104.1 647.0 103.4 648.0 102.8C649.0 102.1 650.0 101.5 651.0 100.9C652.0 100.2 653.0 99.6 654.0 98.9C655.0 98.2 656.0 97.6 657.0 96.9C658.0 96.3 659.0 95.5 660.0 95.0C661.0 94.4 662.0 94.0 663.0 93.6C664.0 93.1 665.0 92.6 666.0 92.1C667.0 91.6 668.0 91.0 669.0 90.4C670.0 89.8 671.0 89.3 672.0 88.7C673.0 88.1 674.0 87.6 675.0 87.0C676.0 86.5 677.0 86.0 678.0 85.5C679.0 85.0 680.0 84.5 681.0 84.0C682.0 83.5 683.0 82.9 684.0 82.4C685.0 82.0 686.0 81.5 687.0 81.1C688.0 80.7 689.5 80.2 690.0 80.0" fill="none" stroke="#00ced1" stroke-width="1.15"/>
<path d="M3.2 168.5L5.1 168.5L8.6 167.2L12.0 166.6L15.5 166.8L18.9 167.5L22.3 169.3L25.8 170.9L29.2 173.3L32.6 176.3L36.1 180.0L39.5 184.7L43.0 190.2L46.4 197.3L49.8 201.8L53.3 199.0L56.7 195.6L60.1 195.6L63.6 197.0L67.0 198.2L70.5 198.1L73.9 197.0L77.3 194.3L80.8 190.8L84.2 188.2L87.6 188.0L91.1 189.7L94.5 191.1L98.0 193.2L101.4 197.6L104.8 201.9L108.3 205.2L111.7 208.2L115.1 211.4L118.6 212.5L122.0 211.3L125.5 207.5L128.9 202.1L132.3 198.3L135.8 197.5L139.2 200.9L142.6 206.3L146.1 210.8L149.5 214.1L153.0 217.4L156.4 221.5L159.8 226.7L163.3 233.3L166.7 238.7L170.1 241.3L173.6 242.2L177.0 242.4L180.5 240.9L183.9 238.2L187.3 236.1L190.8 235.5L194.2 234.9L197.6 235.0L201.1 235.8L204.5 234.8L208.0 232.8L211.4 233.8L214.8 236.0L218.3 237.2L221.7 235.8L225.1 232.5L228.6 230.8L232.0 230.5L235.5 230.3L238.9 229.5L242.3 229.2L245.8 228.6L249.2 227.1L252.6 223.2L256.1 218.6L259.5 213.9L263.0 212.0L266.4 213.7L269.8 215.2L273.3 214.0L276.7 212.2L280.1 210.0L283.6 202.3L287.0 193.2L290.5 187.9L293.9 185.8L297.3 185.3L300.8 185.1L304.2 182.8L307.6 180.9L311.1 179.3L314.5 176.4L318.0 174.2L321.4 170.9L324.8 166.0L328.3 163.2L331.7 162.3L335.1 163.4L338.6 164.9L342.0 164.5L345.5 161.7L348.9 161.6L352.3 161.4L355.8 156.6L359.2 152.2L362.6 148.9L366.1 146.2L369.5 143.3L373.0 141.6L376.4 141.3L379.8 141.9L383.3 144.1L386.7 147.5L390.1 148.6L393.6 148.8L397.0 149.1L400.5 150.1L403.9 151.9L407.3 154.0L410.8 155.0L414.2 154.4L417.6 151.9L421.1 151.7L424.5 153.5L428.0 153.6L431.4 150.5L434.8 147.6L438.3 144.2L441.7 141.0L445.1 139.2L448.6 137.3L452.0 131.5L455.5 127.4L458.9 128.3L462.3 131.2L465.8 136.0L469.2 139.5L472.6 139.5L476.1 139.8L479.5 142.7L483.0 145.6L486.4 147.4L489.8 148.2L493.3 146.8L496.7 143.9L500.1 141.2L503.6 140.5L507.0 140.7L510.5 140.5L513.9 136.7L517.3 132.7L520.8 128.7L524.2 125.0L527.6 123.7L531.1 124.4L534.5 123.8L538.0 124.2L541.4 125.5L544.8 126.6L548.3 125.8L551.7 125.1L555.1 125.4L558.6 124.3L562.0 123.8L565.5 124.9L568.9 126.3L572.3 123.0L575.8 117.4L579.2 114.0L582.6 112.1L586.1 111.3L589.5 108.8L593.0 104.4L596.4 98.8L599.8 92.7L603.3 86.6L606.7 76.8L610.1 70.9L613.6 67.5L617.0 65.1L620.5 63.6L623.9 61.1L627.3 60.6L630.8 60.7L634.2 60.8L637.6 61.6L641.1 66.0L644.5 67.7L648.0 63.7L651.4 56.3L654.8 52.6L658.3 51.4L661.7 49.1L665.1 46.8L668.6 43.4L672.0 37.1L675.5 32.7L678.9 33.5L682.3 34.2L685.8 29.0L689.2 24.6" fill="none" stroke="#00ced1" stroke-width="1.15"/>
<path d="M3.2 170.7L5.1 170.7L8.6 169.1L12.0 168.1L15.5 167.7L18.9 167.9L22.3 169.0L25.8 170.1L29.2 172.0L32.6 174.5L36.1 177.5L39.5 181.5L43.0 186.2L46.4 192.3L49.8 196.9L53.3 196.7L56.7 195.2L60.1 195.3L63.6 196.4L67.0 197.4L70.5 197.6L73.9 197.0L77.3 195.2L80.8 192.6L84.2 190.3L87.6 189.4L91.1 190.1L94.5 190.9L98.0 192.3L101.4 195.6L104.8 199.1L108.3 202.2L111.7 205.2L115.1 208.4L118.6 210.1L122.0 210.1L125.5 208.0L128.9 204.2L132.3 201.0L135.8 199.5L139.2 201.1L142.6 204.6L146.1 208.2L149.5 211.3L153.0 214.4L156.4 218.1L159.8 222.7L163.3 228.4L166.7 233.7L170.1 237.1L173.6 239.1L177.0 240.3L180.5 240.0L183.9 238.5L187.3 237.0L190.8 236.3L194.2 235.6L197.6 235.5L201.1 235.9L204.5 235.1L208.0 233.7L211.4 234.1L214.8 235.4L218.3 236.4L221.7 235.8L225.1 233.6L228.6 232.1L232.0 231.5L235.5 231.0L238.9 230.3L242.3 229.8L245.8 229.2L249.2 228.0L252.6 225.1L256.1 221.4L259.5 217.3L263.0 215.0L266.4 215.1L269.8 215.6L273.3 214.7L276.7 213.2L280.1 211.4L283.6 205.9L287.0 198.6L290.5 193.2L293.9 190.1L297.3 188.3L300.8 187.2L304.2 184.9L307.6 183.0L311.1 181.2L314.5 178.6L318.0 176.4L321.4 173.5L324.8 169.4L328.3 166.4L331.7 164.7L335.1 164.6L338.6 165.2L342.0 164.8L345.5 162.9L348.9 162.4L352.3 162.0L355.8 158.6L359.2 155.0L362.6 151.8L366.1 149.1L369.5 146.2L373.0 144.1L376.4 143.1L379.8 142.8L383.3 144.0L386.7 146.3L390.1 147.4L393.6 148.0L397.0 148.4L400.5 149.3L403.9 150.8L407.3 152.5L410.8 153.7L414.2 153.7L417.6 152.3L421.1 152.0L424.5 153.1L428.0 153.3L431.4 151.4L434.8 149.1L438.3 146.4L441.7 143.5L445.1 141.5L448.6 139.5L452.0 134.9L455.5 131.0L458.9 130.4L462.3 131.6L465.8 134.7L469.2 137.4L472.6 138.1L476.1 138.8L479.5 141.0L483.0 143.5L486.4 145.4L489.8 146.6L493.3 146.2L496.7 144.5L500.1 142.5L503.6 141.6L507.0 141.4L510.5 141.0L513.9 138.3L517.3 135.1L520.8 131.7L524.2 128.2L527.6 126.3L531.1 125.8L534.5 125.0L538.0 124.8L541.4 125.5L544.8 126.2L548.3 125.9L551.7 125.4L555.1 125.5L558.6 124.7L562.0 124.3L565.5 124.8L568.9 125.8L572.3 123.7L575.8 119.7L579.2 116.7L582.6 114.5L586.1 113.2L589.5 110.9L593.0 107.3L596.4 102.6L599.8 97.3L603.3 91.7L606.7 83.4L610.1 77.3L613.6 72.9L617.0 69.5L620.5 67.0L623.9 64.2L627.3 62.8L630.8 62.1L634.2 61.7L637.6 62.0L641.1 64.7L644.5 66.3L648.0 64.1L651.4 59.0L654.8 55.7L658.3 53.8L661.7 51.5L665.1 49.2L668.6 46.1L672.0 41.0L675.5 36.8L678.9 35.9L682.3 35.6L685.8 31.7L689.2 27.8" fill="none" stroke="#00ced1" stroke-width="1.15"/>
<path d="M3.2 173.6L5.1 173.6L8.6 171.9L12.0 170.6L15.5 169.8L18.9 169.5L22.3 169.8L25.8 170.4L29.2 171.6L32.6 173.3L36.1 175.6L39.5 178.7L43.0 182.5L46.4 187.3L49.8 191.5L53.3 192.6L56.7 192.5L60.1 193.2L63.6 194.4L67.0 195.5L70.5 196.0L73.9 196.0L77.3 195.0L80.8 193.3L84.2 191.6L87.6 190.7L91.1 190.9L94.5 191.2L98.0 192.1L101.4 194.3L104.8 197.0L108.3 199.5L111.7 202.1L115.1 204.9L118.6 206.8L122.0 207.5L125.5 206.7L128.9 204.5L132.3 202.3L135.8 201.0L139.2 201.7L142.6 203.9L146.1 206.5L149.5 208.9L153.0 211.5L156.4 214.7L159.8 218.5L163.3 223.2L166.7 227.9L170.1 231.4L173.6 234.0L177.0 236.0L180.5 236.7L183.9 236.4L187.3 235.9L190.8 235.7L194.2 235.4L197.6 235.3L201.1 235.6L204.5 235.2L208.0 234.2L211.4 234.4L214.8 235.2L218.3 235.9L221.7 235.6L225.1 234.2L228.6 233.1L232.0 232.4L235.5 231.9L238.9 231.2L242.3 230.7L245.8 230.1L249.2 229.1L252.6 226.9L256.1 224.0L259.5 220.7L263.0 218.4L266.4 217.7L269.8 217.5L273.3 216.4L276.7 215.1L280.1 213.5L283.6 209.3L287.0 203.7L290.5 199.0L293.9 195.6L297.3 193.2L300.8 191.4L304.2 188.9L307.6 186.7L311.1 184.7L314.5 182.2L318.0 180.0L321.4 177.2L324.8 173.6L328.3 170.7L331.7 168.6L335.1 167.7L338.6 167.4L342.0 166.7L345.5 164.9L348.9 164.2L352.3 163.5L355.8 160.9L359.2 158.0L362.6 155.2L366.1 152.6L369.5 149.9L373.0 147.7L376.4 146.2L379.8 145.4L383.3 145.6L386.7 146.8L390.1 147.4L393.6 147.8L397.0 148.1L400.5 148.8L403.9 149.9L407.3 151.3L410.8 152.3L414.2 152.6L417.6 151.9L421.1 151.8L424.5 152.6L428.0 152.9L431.4 151.7L434.8 150.1L438.3 148.0L441.7 145.8L445.1 143.9L448.6 142.0L452.0 138.4L455.5 135.0L458.9 133.8L462.3 133.8L465.8 135.4L469.2 137.0L472.6 137.6L476.1 138.1L479.5 139.8L483.0 141.7L486.4 143.4L489.8 144.6L493.3 144.8L496.7 144.0L500.1 142.7L503.6 142.1L507.0 141.8L510.5 141.5L513.9 139.6L517.3 137.2L520.8 134.4L524.2 131.5L527.6 129.5L531.1 128.5L534.5 127.3L538.0 126.7L541.4 126.7L544.8 126.9L548.3 126.5L551.7 126.0L555.1 126.0L558.6 125.4L562.0 124.9L565.5 125.2L568.9 125.7L572.3 124.4L575.8 121.6L579.2 119.1L582.6 117.1L586.1 115.7L589.5 113.6L593.0 110.6L596.4 106.7L599.8 102.3L603.3 97.4L606.7 90.7L610.1 85.0L613.6 80.3L617.0 76.4L620.5 73.2L623.9 70.0L627.3 67.8L630.8 66.2L634.2 65.0L637.6 64.5L641.1 65.8L644.5 66.6L648.0 65.1L651.4 61.5L654.8 58.7L658.3 56.8L661.7 54.6L665.1 52.3L668.6 49.6L672.0 45.4L675.5 41.6L678.9 40.0L682.3 38.9L685.8 35.5L689.2 32.1" fill="none" stroke="#00ced1" stroke-width="1.15"/>
<path d="M3.2 176.8L5.1 176.8L8.6 175.2L12.0 173.8L15.5 172.8L18.9 172.1L22.3 172.0L25.8 172.1L29.2 172.6L32.6 173.6L36.1 175.1L39.5 177.2L43.0 180.0L46.4 183.6L49.8 186.9L53.3 188.3L56.7 188.9L60.1 189.9L63.6 191.2L67.0 192.4L70.5 193.2L73.9 193.6L77.3 193.3L80.8 192.4L84.2 191.4L87.6 190.9L91.1 191.0L94.5 191.2L98.0 191.8L101.4 193.3L104.8 195.2L108.3 197.2L111.7 199.2L115.1 201.5L118.6 203.3L122.0 204.3L125.5 204.2L128.9 203.1L132.3 201.8L135.8 201.1L139.2 201.5L142.6 203.0L146.1 204.9L149.5 206.7L153.0 208.8L156.4 211.3L159.8 214.3L163.3 218.1L166.7 222.0L170.1 225.2L173.6 227.9L177.0 230.1L180.5 231.5L183.9 232.0L187.3 232.3L190.8 232.7L194.2 232.9L197.6 233.3L201.1 233.8L204.5 233.8L208.0 233.3L211.4 233.6L214.8 234.2L218.3 234.8L221.7 234.8L225.1 234.0L228.6 233.3L232.0 232.8L235.5 232.4L238.9 231.9L242.3 231.4L245.8 230.9L249.2 230.1L252.6 228.5L256.1 226.4L259.5 223.8L263.0 221.8L266.4 220.9L269.8 220.2L273.3 219.1L276.7 217.8L280.1 216.4L283.6 213.1L287.0 208.8L290.5 204.9L293.9 201.8L297.3 199.3L300.8 197.2L304.2 194.7L307.6 192.4L311.1 190.2L314.5 187.7L318.0 185.4L321.4 182.8L324.8 179.5L328.3 176.7L331.7 174.4L335.1 173.0L338.6 172.0L342.0 170.8L345.5 169.1L348.9 167.9L352.3 166.9L355.8 164.7L359.2 162.2L362.6 159.7L366.1 157.3L369.5 154.8L373.0 152.6L376.4 150.9L379.8 149.6L383.3 149.2L386.7 149.4L390.1 149.5L393.6 149.4L397.0 149.4L400.5 149.6L403.9 150.2L407.3 151.1L410.8 151.8L414.2 152.1L417.6 151.7L421.1 151.7L424.5 152.2L428.0 152.4L431.4 151.7L434.8 150.7L438.3 149.2L441.7 147.5L445.1 146.0L448.6 144.5L452.0 141.7L455.5 139.0L458.9 137.5L462.3 137.0L465.8 137.6L469.2 138.4L472.6 138.5L476.1 138.8L479.5 139.8L483.0 141.1L486.4 142.3L489.8 143.3L493.3 143.6L496.7 143.2L500.1 142.5L503.6 142.1L507.0 141.9L510.5 141.7L513.9 140.4L517.3 138.7L520.8 136.6L524.2 134.3L527.6 132.6L531.1 131.4L534.5 130.2L538.0 129.4L541.4 129.0L544.8 128.8L548.3 128.3L551.7 127.7L555.1 127.4L558.6 126.8L562.0 126.3L565.5 126.2L568.9 126.4L572.3 125.4L575.8 123.4L579.2 121.5L582.6 119.8L586.1 118.5L589.5 116.7L593.0 114.2L596.4 111.1L599.8 107.5L603.3 103.5L606.7 98.1L610.1 93.2L613.6 88.9L617.0 85.0L620.5 81.6L623.9 78.2L627.3 75.5L630.8 73.3L634.2 71.5L637.6 70.1L641.1 70.2L644.5 70.0L648.0 68.5L651.4 65.6L654.8 63.2L658.3 61.2L661.7 59.1L665.1 56.9L668.6 54.4L672.0 50.9L675.5 47.6L678.9 45.6L682.3 44.0L685.8 41.0L689.2 37.9" fill="none" stroke="#00ced1" stroke-width="1.15"/>
<path d="M3.2 180.6L5.1 180.6L8.6 179.2L12.0 177.9L15.5 176.9L18.9 176.1L22.3 175.6L25.8 175.3L29.2 175.3L32.6 175.7L36.1 176.5L39.5 177.7L43.0 179.4L46.4 181.8L49.8 184.1L53.3 185.3L56.7 185.9L60.1 186.9L63.6 188.0L67.0 189.1L70.5 189.9L73.9 190.5L77.3 190.6L80.8 190.3L84.2 189.8L87.6 189.6L91.1 189.8L94.5 190.1L98.0 190.6L101.4 191.6L104.8 193.0L108.3 194.5L111.7 196.1L115.1 197.9L118.6 199.4L122.0 200.4L125.5 200.7L128.9 200.3L132.3 199.8L135.8 199.5L139.2 199.9L142.6 201.0L146.1 202.4L149.5 203.8L153.0 205.4L156.4 207.4L159.8 209.7L163.3 212.6L166.7 215.6L170.1 218.3L173.6 220.6L177.0 222.7L180.5 224.3L183.9 225.4L187.3 226.2L190.8 227.0L194.2 227.7L197.6 228.4L201.1 229.2L204.5 229.6L208.0 229.8L211.4 230.2L214.8 231.0L218.3 231.7L221.7 232.0L225.1 231.7L228.6 231.5L232.0 231.3L235.5 231.2L238.9 231.0L242.3 230.8L245.8 230.5L249.2 230.0L252.6 229.0L256.1 227.6L259.5 225.8L263.0 224.3L266.4 223.5L269.8 222.8L273.3 221.9L276.7 220.8L280.1 219.6L283.6 217.2L287.0 214.0L290.5 211.0L293.9 208.4L297.3 206.2L300.8 204.2L304.2 201.9L307.6 199.7L311.1 197.6L314.5 195.3L318.0 193.1L321.4 190.7L324.8 187.9L328.3 185.2L331.7 183.0L335.1 181.2L338.6 179.8L342.0 178.3L345.5 176.5L348.9 175.0L352.3 173.7L355.8 171.6L359.2 169.4L362.6 167.1L366.1 164.8L369.5 162.5L373.0 160.4L376.4 158.5L379.8 157.0L383.3 156.0L386.7 155.5L390.1 154.9L393.6 154.4L397.0 153.9L400.5 153.6L403.9 153.6L407.3 153.9L410.8 154.1L414.2 154.0L417.6 153.6L421.1 153.4L424.5 153.6L428.0 153.6L431.4 153.0L434.8 152.2L438.3 151.1L441.7 149.9L445.1 148.7L448.6 147.4L452.0 145.4L455.5 143.2L458.9 141.9L462.3 141.2L465.8 141.1L469.2 141.3L472.6 141.1L476.1 141.0L479.5 141.5L483.0 142.1L486.4 142.8L489.8 143.4L493.3 143.6L496.7 143.3L500.1 142.9L503.6 142.6L507.0 142.4L510.5 142.2L513.9 141.3L517.3 140.1L520.8 138.7L524.2 137.0L527.6 135.6L531.1 134.6L534.5 133.5L538.0 132.7L541.4 132.1L544.8 131.7L548.3 131.1L551.7 130.4L555.1 130.0L558.6 129.3L562.0 128.8L565.5 128.5L568.9 128.4L572.3 127.6L575.8 126.1L579.2 124.6L582.6 123.2L586.1 122.0L589.5 120.5L593.0 118.6L596.4 116.2L599.8 113.3L603.3 110.2L606.7 106.1L610.1 102.2L613.6 98.6L617.0 95.1L620.5 92.0L623.9 88.8L627.3 86.1L630.8 83.7L634.2 81.5L637.6 79.7L641.1 78.8L644.5 77.9L648.0 76.2L651.4 73.6L654.8 71.2L658.3 69.2L661.7 67.1L665.1 64.9L668.6 62.6L672.0 59.5L675.5 56.6L678.9 54.4L682.3 52.6L685.8 49.8L689.2 47.0" fill="none" stroke="#00ced1" stroke-width="1.15"/>
<path d="M3.2 186.9L5.1 186.9L8.6 185.6L12.0 184.4L15.5 183.4L18.9 182.5L22.3 181.8L25.8 181.2L29.2 180.9L32.6 180.8L36.1 181.0L39.5 181.5L43.0 182.3L46.4 183.7L49.8 185.0L53.3 185.7L56.7 186.1L60.1 186.7L63.6 187.4L67.0 188.1L70.5 188.7L73.9 189.2L77.3 189.3L80.8 189.2L84.2 189.0L87.6 188.9L91.1 189.0L94.5 189.3L98.0 189.6L101.4 190.4L104.8 191.3L108.3 192.4L111.7 193.5L115.1 194.8L118.6 195.9L122.0 196.8L125.5 197.2L128.9 197.2L132.3 197.0L135.8 197.0L139.2 197.4L142.6 198.3L146.1 199.3L149.5 200.4L153.0 201.7L156.4 203.1L159.8 204.8L163.3 207.0L166.7 209.2L170.1 211.3L173.6 213.3L177.0 215.0L180.5 216.5L183.9 217.7L187.3 218.7L190.8 219.6L194.2 220.5L197.6 221.4L201.1 222.3L204.5 223.0L208.0 223.5L211.4 224.2L214.8 225.0L218.3 225.8L221.7 226.4L225.1 226.5L228.6 226.7L232.0 226.9L235.5 227.1L238.9 227.2L242.3 227.3L245.8 227.3L249.2 227.2L252.6 226.8L256.1 226.0L259.5 225.0L263.0 224.1L266.4 223.5L269.8 223.1L273.3 222.5L276.7 221.8L280.1 220.9L283.6 219.3L287.0 217.2L290.5 215.1L293.9 213.2L297.3 211.5L300.8 209.9L304.2 208.1L307.6 206.3L311.1 204.6L314.5 202.7L318.0 200.8L321.4 198.8L324.8 196.5L328.3 194.3L331.7 192.4L335.1 190.7L338.6 189.2L342.0 187.7L345.5 185.9L348.9 184.5L352.3 183.0L355.8 181.1L359.2 179.1L362.6 177.1L366.1 175.1L369.5 173.0L373.0 171.0L376.4 169.1L379.8 167.5L383.3 166.2L386.7 165.3L390.1 164.4L393.6 163.4L397.0 162.6L400.5 161.9L403.9 161.4L407.3 161.1L410.8 160.8L414.2 160.3L417.6 159.7L421.1 159.2L424.5 158.9L428.0 158.6L431.4 157.9L434.8 157.1L438.3 156.2L441.7 155.0L445.1 154.0L448.6 152.9L452.0 151.2L455.5 149.5L458.9 148.3L462.3 147.4L465.8 147.0L469.2 146.8L472.6 146.3L476.1 146.0L479.5 145.9L483.0 146.1L486.4 146.3L489.8 146.4L493.3 146.4L496.7 146.1L500.1 145.6L503.6 145.2L507.0 145.0L510.5 144.7L513.9 144.0L517.3 143.1L520.8 141.9L524.2 140.7L527.6 139.6L531.1 138.7L534.5 137.8L538.0 137.0L541.4 136.3L544.8 135.8L548.3 135.2L551.7 134.5L555.1 134.0L558.6 133.3L562.0 132.7L565.5 132.3L568.9 132.0L572.3 131.3L575.8 130.1L579.2 128.9L582.6 127.8L586.1 126.7L589.5 125.5L593.0 124.0L596.4 122.1L599.8 119.9L603.3 117.6L606.7 114.5L610.1 111.5L613.6 108.6L617.0 105.8L620.5 103.2L623.9 100.5L627.3 98.0L630.8 95.8L634.2 93.7L637.6 91.8L641.1 90.5L644.5 89.2L648.0 87.4L651.4 85.1L654.8 82.9L658.3 80.9L661.7 78.8L665.1 76.8L668.6 74.5L672.0 71.9L675.5 69.2L678.9 67.1L682.3 65.2L685.8 62.7L689.2 60.1" fill="none" stroke="#00ced1" stroke-width="1.15"/>
<rect x="3" y="77" width="864" height="1" fill="#ffff00"/>
<rect x="3" y="107" width="864" height="1" fill="#ffff00"/>
<rect x="3" y="226" width="864" height="1" fill="#ffff00"/>
<path d="M608 54.6L687.6 11.8" stroke="#fff" stroke-width="3" fill="none"/>
<path d="M688 5H696.5L692.2 9.6Z" fill="#93a0a6"/>
<rect x="675" y="45" width="46.5" height="1" fill="#fff"/>
<path d="M692 21L700.8 41.5" stroke="#fff" stroke-width="2.4" fill="none"/>
<path d="M694.6 36.2L701.2 42.2L703 31.1" stroke="#fff" stroke-width="1.4" fill="none"/>
<path d="M709.9 42.7L718.5 12.4M709.1 20.4L718.6 12.2V23.8" stroke="#fff" stroke-width="1" fill="none"/>
<path d="M6.5 308.2v-2.4M10.5 308.2v-2.0M13.5 308.2v-1.6M16.5 308.2v-1.0M82.5 308.2v-1.0M85.5 308.2v-2.0M89.5 308.2v-2.0M92.5 308.2v-1.5M96.5 308.2v-1.0M130.5 308.2v-3.0M137.5 308.2v-4.0M192.5 308.2v-2.0M196.5 308.2v-4.0M199.5 308.2v-4.0M206.5 308.2v-8.0M209.5 308.2v-7.0M213.5 308.2v-6.0M216.5 308.2v-6.0M220.5 308.2v-5.0M223.5 308.2v-8.0M227.5 308.2v-10.0M230.5 308.2v-9.0M237.5 308.2v-9.0M244.5 308.2v-8.0M247.5 308.2v-7.0M251.5 308.2v-10.0M254.5 308.2v-12.0M258.5 308.2v-16.0M261.5 308.2v-16.0M265.5 308.2v-13.0M268.5 308.2v-11.0M275.5 308.2v-10.0M278.5 308.2v-9.0M282.5 308.2v-13.0M285.5 308.2v-18.0M289.5 308.2v-19.0M292.5 308.2v-19.0M296.5 308.2v-17.0M299.5 308.2v-13.0M306.5 308.2v-11.0M309.5 308.2v-10.0M313.5 308.2v-9.0M316.5 308.2v-8.0M320.5 308.2v-7.0M323.5 308.2v-9.0M327.5 308.2v-8.0M330.5 308.2v-7.5M337.5 308.2v-0.5M344.5 308.2v-1.0M358.5 308.2v-0.5M361.5 308.2v-1.0M365.5 308.2v-1.5M368.5 308.2v-2.5M375.5 308.2v-1.5M444.5 308.2v-1.0M447.5 308.2v-1.5M451.5 308.2v-7.0M454.5 308.2v-8.0M458.5 308.2v-5.0M461.5 308.2v-2.5M513.5 308.2v-1.0M516.5 308.2v-5.0M520.5 308.2v-7.0M523.5 308.2v-8.0M527.5 308.2v-9.0M530.5 308.2v-8.0M537.5 308.2v-5.0M544.5 308.2v-1.5M547.5 308.2v-0.5M575.5 308.2v-2.0M578.5 308.2v-3.5M582.5 308.2v-3.5M585.5 308.2v-4.0M589.5 308.2v-6.0M592.5 308.2v-8.0M596.5 308.2v-11.0M599.5 308.2v-14.0M606.5 308.2v-23.0M610.5 308.2v-22.0M613.5 308.2v-22.0M616.5 308.2v-20.0M620.5 308.2v-18.0M623.5 308.2v-15.0M627.5 308.2v-12.0M630.5 308.2v-9.0M637.5 308.2v-0.5M675.5 308.2v-5.0M678.5 308.2v-0.5M682.5 308.2v-0.5M685.5 308.2v-4.0M689.5 308.2v-4.0" stroke="#ff0000" stroke-width="1" fill="none"/>
<path d="M20.5 308.2v0.5M23.5 308.2v1.6M27.5 308.2v4.0M30.5 308.2v7.0M37.5 308.2v14.0M44.5 308.2v21.0M47.5 308.2v27.0M51.5 308.2v24.0M54.5 308.2v19.0M58.5 308.2v15.0M61.5 308.2v14.0M65.5 308.2v12.0M68.5 308.2v10.0M75.5 308.2v5.0M78.5 308.2v2.0M99.5 308.2v1.5M106.5 308.2v8.0M110.5 308.2v8.0M113.5 308.2v10.0M116.5 308.2v10.0M120.5 308.2v9.0M123.5 308.2v6.0M127.5 308.2v3.0M144.5 308.2v1.5M148.5 308.2v3.5M151.5 308.2v6.0M154.5 308.2v9.0M158.5 308.2v13.0M161.5 308.2v17.0M168.5 308.2v17.0M175.5 308.2v14.0M178.5 308.2v11.0M182.5 308.2v6.0M185.5 308.2v2.0M347.5 308.2v3.0M351.5 308.2v4.0M354.5 308.2v1.0M382.5 308.2v3.0M385.5 308.2v8.0M389.5 308.2v10.0M392.5 308.2v11.0M396.5 308.2v12.0M399.5 308.2v13.0M406.5 308.2v16.0M409.5 308.2v17.0M413.5 308.2v15.0M416.5 308.2v13.0M420.5 308.2v12.0M423.5 308.2v13.0M427.5 308.2v10.0M430.5 308.2v9.0M437.5 308.2v2.0M468.5 308.2v5.0M475.5 308.2v6.0M478.5 308.2v10.0M482.5 308.2v12.0M485.5 308.2v13.0M489.5 308.2v12.0M492.5 308.2v11.0M496.5 308.2v8.0M499.5 308.2v5.0M506.5 308.2v4.0M509.5 308.2v3.0M551.5 308.2v0.5M554.5 308.2v1.5M558.5 308.2v0.5M561.5 308.2v1.5M564.5 308.2v1.5M568.5 308.2v3.5M644.5 308.2v5.5M647.5 308.2v5.0M651.5 308.2v1.0M654.5 308.2v2.5M658.5 308.2v2.5M661.5 308.2v2.0" stroke="#ffff00" stroke-width="1" fill="none"/>
<path d="M3.0 291.0C4.2 290.8 7.5 289.8 10.0 289.6C12.5 289.4 15.3 289.5 18.0 290.0C20.7 290.5 23.7 291.2 26.0 292.4C28.3 293.6 29.7 294.7 32.0 297.0C34.3 299.3 37.7 303.3 40.0 306.0C42.3 308.7 44.3 311.2 46.0 313.0C47.7 314.8 48.3 316.2 50.0 317.0C51.7 317.8 54.0 317.4 56.0 317.6C58.0 317.8 60.0 317.6 62.0 318.0C64.0 318.4 66.0 320.0 68.0 320.0C70.0 320.0 72.0 318.8 74.0 318.0C76.0 317.2 77.7 315.7 80.0 315.0C82.3 314.3 85.3 313.8 88.0 313.6C90.7 313.4 93.7 313.4 96.0 314.0C98.3 314.6 99.7 315.7 102.0 317.0C104.3 318.3 107.3 320.4 110.0 321.6C112.7 322.8 115.7 323.8 118.0 324.0C120.3 324.2 122.0 324.0 124.0 323.0C126.0 322.0 128.0 319.2 130.0 318.0C132.0 316.8 134.0 316.1 136.0 316.0C138.0 315.9 140.0 316.9 142.0 317.6C144.0 318.3 145.7 319.0 148.0 320.4C150.3 321.8 153.3 323.9 156.0 326.0C158.7 328.1 161.3 331.0 164.0 333.0C166.7 335.0 169.7 336.8 172.0 338.0C174.3 339.2 175.7 340.3 178.0 340.0C180.3 339.7 183.3 337.3 186.0 336.0C188.7 334.7 191.3 333.2 194.0 332.0C196.7 330.8 199.3 330.0 202.0 329.0C204.7 328.0 207.0 326.8 210.0 326.0C213.0 325.2 216.7 325.3 220.0 324.0C223.3 322.7 226.7 319.5 230.0 318.0C233.3 316.5 236.7 316.1 240.0 315.0C243.3 313.9 246.7 313.6 250.0 311.6C253.3 309.6 256.7 305.1 260.0 303.0C263.3 300.9 266.7 300.0 270.0 299.0C273.3 298.0 277.3 298.7 280.0 297.0C282.7 295.3 283.7 291.5 286.0 289.0C288.3 286.5 291.3 283.5 294.0 282.0C296.7 280.5 299.3 280.7 302.0 280.0C304.7 279.3 307.0 278.7 310.0 278.0C313.0 277.3 316.7 277.0 320.0 276.0C323.3 275.0 327.3 272.3 330.0 272.0C332.7 271.7 333.7 273.2 336.0 274.0C338.3 274.8 342.0 276.3 344.0 277.0C346.0 277.7 346.0 278.0 348.0 278.0C350.0 278.0 353.3 277.5 356.0 277.0C358.7 276.5 361.0 275.7 364.0 275.0C367.0 274.3 371.3 273.0 374.0 273.0C376.7 273.0 378.0 273.8 380.0 275.0C382.0 276.2 383.7 278.7 386.0 280.4C388.3 282.1 391.3 283.6 394.0 285.0C396.7 286.4 399.7 287.5 402.0 289.0C404.3 290.5 405.7 292.8 408.0 294.0C410.3 295.2 413.3 295.0 416.0 296.0C418.7 297.0 421.3 299.3 424.0 300.0C426.7 300.7 429.3 300.7 432.0 300.0C434.7 299.3 437.3 297.0 440.0 296.0C442.7 295.0 445.5 295.3 448.0 294.0C450.5 292.7 452.7 288.5 455.0 288.0C457.3 287.5 459.8 289.8 462.0 291.0C464.2 292.2 465.3 293.7 468.0 295.0C470.7 296.3 475.0 297.5 478.0 299.0C481.0 300.5 483.5 302.7 486.0 304.0C488.5 305.3 490.7 306.8 493.0 307.0C495.3 307.2 497.5 305.2 500.0 305.0C502.5 304.8 505.7 306.1 508.0 305.6C510.3 305.1 512.2 303.3 514.0 302.0C515.8 300.7 516.6 299.3 518.9 298.0C521.2 296.7 525.2 294.8 527.8 294.0C530.4 293.2 531.8 292.9 534.4 293.1C537.0 293.3 540.0 294.7 543.3 295.3C546.6 295.9 551.1 296.6 554.4 296.9C557.7 297.2 560.9 296.5 563.3 296.9C565.7 297.3 566.7 299.5 568.9 299.1C571.1 298.7 573.9 295.9 576.7 294.7C579.5 293.5 582.7 293.1 585.6 291.8C588.5 290.5 591.5 289.2 594.4 286.9C597.3 284.6 600.7 280.8 603.3 278.0C605.9 275.2 607.8 272.2 610.0 270.2C612.2 268.2 614.1 267.2 616.7 266.2C619.3 265.2 623.0 264.3 625.6 264.2C628.2 264.1 630.0 264.8 632.2 265.8C634.4 266.8 636.7 268.8 638.9 270.2C641.1 271.6 643.4 273.6 645.6 274.0C647.8 274.4 650.0 272.5 652.2 272.4C654.4 272.3 656.7 273.8 658.9 273.6C661.1 273.4 663.0 272.4 665.6 271.3C668.2 270.2 671.8 267.7 674.4 267.3C677.0 266.9 678.7 269.4 681.1 269.1C683.5 268.9 687.6 266.4 688.9 265.8" fill="none" stroke="#4682b4" stroke-width="1.1"/>
<path d="M3.0 292.4C4.2 292.3 7.2 291.8 10.0 291.6C12.8 291.4 17.3 291.1 20.0 291.0C22.7 290.9 24.0 290.7 26.0 291.0C28.0 291.3 29.7 292.0 32.0 293.0C34.3 294.0 37.7 295.5 40.0 297.0C42.3 298.5 44.0 300.3 46.0 302.0C48.0 303.7 49.7 305.5 52.0 307.0C54.3 308.5 57.3 309.8 60.0 311.0C62.7 312.2 65.3 313.5 68.0 314.4C70.7 315.3 73.3 316.3 76.0 316.6C78.7 316.9 81.3 316.3 84.0 316.0C86.7 315.7 89.7 314.8 92.0 314.6C94.3 314.4 96.0 314.4 98.0 314.6C100.0 314.8 101.7 315.4 104.0 316.0C106.3 316.6 109.3 317.6 112.0 318.4C114.7 319.2 117.7 320.5 120.0 321.0C122.3 321.5 124.0 321.8 126.0 321.6C128.0 321.4 130.0 320.1 132.0 319.6C134.0 319.1 136.0 318.6 138.0 318.4C140.0 318.2 141.7 318.1 144.0 318.4C146.3 318.7 149.3 319.5 152.0 320.4C154.7 321.3 157.3 322.7 160.0 324.0C162.7 325.3 165.3 326.9 168.0 328.4C170.7 329.9 174.0 332.0 176.0 333.0C178.0 334.0 178.3 334.1 180.0 334.4C181.7 334.7 183.7 335.1 186.0 335.0C188.3 334.9 191.3 334.1 194.0 333.6C196.7 333.1 199.3 332.6 202.0 332.0C204.7 331.4 207.0 330.7 210.0 330.0C213.0 329.3 216.7 328.8 220.0 327.6C223.3 326.4 226.7 324.4 230.0 323.0C233.3 321.6 236.7 320.2 240.0 319.0C243.3 317.8 246.7 317.4 250.0 316.0C253.3 314.6 256.7 312.1 260.0 310.4C263.3 308.7 266.7 307.6 270.0 306.0C273.3 304.4 276.7 303.0 280.0 301.0C283.3 299.0 286.7 296.2 290.0 294.0C293.3 291.8 296.7 289.3 300.0 287.6C303.3 285.9 306.7 284.8 310.0 283.6C313.3 282.4 316.7 281.5 320.0 280.4C323.3 279.3 326.7 277.7 330.0 277.0C333.3 276.3 336.3 276.4 340.0 276.4C343.7 276.4 348.0 277.1 352.0 277.0C356.0 276.9 360.0 275.9 364.0 275.6C368.0 275.3 372.7 275.1 376.0 275.2C379.3 275.3 381.3 275.4 384.0 276.0C386.7 276.6 389.3 277.6 392.0 278.6C394.7 279.6 397.0 280.5 400.0 282.0C403.0 283.5 406.7 286.0 410.0 287.6C413.3 289.2 416.7 290.2 420.0 291.6C423.3 293.0 426.7 295.3 430.0 296.0C433.3 296.7 437.0 296.1 440.0 296.0C443.0 295.9 445.7 296.0 448.0 295.6C450.3 295.2 451.7 294.1 454.0 293.6C456.3 293.1 459.3 292.3 462.0 292.4C464.7 292.5 467.3 293.6 470.0 294.0C472.7 294.4 475.3 294.2 478.0 295.0C480.7 295.8 483.3 297.8 486.0 299.0C488.7 300.2 491.3 301.2 494.0 302.0C496.7 302.8 499.3 303.6 502.0 304.0C504.7 304.4 506.8 304.9 510.0 304.5C513.2 304.1 517.4 302.3 521.1 301.3C524.8 300.3 528.5 299.2 532.2 298.4C535.9 297.6 539.6 296.7 543.3 296.4C547.0 296.1 550.7 296.3 554.4 296.4C558.1 296.5 561.9 296.8 565.6 296.9C569.3 297.0 573.0 297.3 576.7 296.9C580.4 296.5 584.1 295.8 587.8 294.7C591.5 293.6 595.2 292.3 598.9 290.2C602.6 288.1 606.3 284.8 610.0 282.0C613.7 279.2 617.8 275.7 621.1 273.6C624.4 271.5 627.4 270.5 630.0 269.6C632.6 268.7 633.7 268.1 636.7 268.4C639.7 268.7 643.7 270.6 647.8 271.3C651.9 272.0 656.7 272.5 661.1 272.4C665.5 272.3 669.8 271.2 674.4 270.7C679.0 270.1 686.5 269.4 688.9 269.1" fill="none" stroke="#ffff00" stroke-width="1.1"/>
<path d="M620 260.6L703.3 264.3" stroke="#fff" stroke-width="3" fill="none"/>
<path d="M3 370.5H866" stroke="#c8c8c8" stroke-width="1" stroke-dasharray="2.6 2.55" fill="none"/>
<path d="M3 439.5H866" stroke="#c8c8c8" stroke-width="1" stroke-dasharray="2.6 2.55" fill="none"/>
<path d="M3.0 388.0L10.0 385.6L15.0 387.0L20.0 396.0L23.0 394.0L27.0 397.0L30.0 404.0L33.0 406.0L37.0 414.0L41.0 416.4L47.4 432.0L51.6 414.0L54.0 409.6L58.4 409.6L61.6 416.0L68.0 415.0L72.4 407.6L75.6 409.0L82.4 400.0L85.6 406.0L89.0 407.0L92.4 409.0L96.0 407.6L99.0 414.4L103.0 417.6L109.0 420.4L113.6 425.4L117.0 416.0L120.4 418.0L127.0 405.0L133.6 400.0L137.0 410.0L141.0 415.6L147.0 417.6L151.6 420.0L154.0 425.0L158.0 426.4L161.6 432.0L165.0 433.0L170.0 432.0L172.0 433.0L177.0 430.0L179.0 426.0L182.4 417.6L186.0 418.4L189.4 420.4L192.4 415.6L196.0 416.0L199.6 420.6L203.0 414.4L206.4 408.4L209.6 416.0L220.0 416.0L223.0 404.4L226.6 404.4L230.6 410.6L237.0 404.4L241.0 406.4L247.0 404.0L251.0 395.0L255.0 391.6L258.4 384.4L261.6 391.6L265.6 398.4L273.0 392.4L278.0 391.6L282.4 383.0L285.0 375.0L289.0 380.4L296.0 380.4L299.4 386.4L303.0 381.6L306.6 386.4L310.0 382.0L320.0 379.6L323.6 374.4L328.0 377.6L330.6 377.6L335.0 386.0L338.0 388.0L344.5 380.4L347.5 393.4L354.0 384.4L360.0 381.4L365.0 382.0L369.0 379.6L376.0 379.6L379.0 384.4L382.0 387.0L385.6 398.0L389.4 392.4L393.0 396.0L398.0 395.6L404.0 402.4L409.6 404.0L414.0 397.6L418.0 396.4L421.0 400.0L423.4 408.4L428.0 399.0L432.0 397.0L435.0 392.4L441.0 388.4L445.0 392.4L448.0 390.4L451.6 380.4L454.4 383.0L458.4 397.0L462.0 397.6L468.6 405.0L472.0 400.0L478.6 409.0L485.4 410.0L493.0 406.4L499.0 397.6L506.4 405.4L512.4 394.0L516.2 389.6L520.0 394.9L523.3 387.6L527.3 393.1L533.3 391.3L537.1 397.1L541.1 395.3L544.4 398.0L547.8 395.3L554.0 399.8L558.2 393.8L561.8 398.7L565.6 398.7L568.4 403.6L572.9 389.8L577.8 388.2L584.4 389.1L590.0 383.1L597.8 373.1L603.3 369.8L606.2 366.0L609.3 377.1L615.6 374.7L633.3 375.3L640.7 393.8L644.0 388.7L647.8 385.3L651.8 378.2L654.4 391.6L662.2 384.9L668.9 383.1L672.9 378.2L675.6 380.9L678.4 391.6L685.6 382.4L688.9 383.6" fill="none" stroke="#1e90ff" stroke-width="1.1" stroke-linejoin="round"/>
<rect x="58" y="463" width="1" height="4" fill="#fff"/>
<rect x="113" y="463" width="1" height="4" fill="#fff"/>
<rect x="168" y="463" width="1" height="4" fill="#fff"/>
<rect x="223" y="463" width="1" height="4" fill="#fff"/>
<rect x="278" y="463" width="1" height="4" fill="#fff"/>
<rect x="334" y="463" width="1" height="4" fill="#fff"/>
<rect x="389" y="463" width="1" height="4" fill="#fff"/>
<rect x="444" y="463" width="1" height="4" fill="#fff"/>
<rect x="499" y="463" width="1" height="4" fill="#fff"/>
<rect x="554" y="463" width="1" height="4" fill="#fff"/>
<rect x="609" y="463" width="1" height="4" fill="#fff"/>
<rect x="664" y="463" width="1" height="4" fill="#fff"/>
<g font-family="'Liberation Sans', sans-serif">
<text x="6.6" y="16" fill="#fff" font-size="9.8" textLength="126.5" lengthAdjust="spacingAndGlyphs" text-anchor="start">USDX,H4&#160;&#160;87.81 87.81 87.74 87.76</text>
<text x="6.6" y="273.2" fill="#fff" font-size="9.8" textLength="163.5" lengthAdjust="spacingAndGlyphs" text-anchor="start">MACD(12,26,9) 0.8701 0.8212 0.0579 0.0000</text>
<text x="6.6" y="360.2" fill="#fff" font-size="9.8" textLength="58.2" lengthAdjust="spacingAndGlyphs" text-anchor="start">RSI(14) 69.5651</text>
<rect x="866" y="31" width="2" height="1" fill="#fff"/>
<text x="870.7" y="34.1" fill="#fff" font-size="9.8" textLength="20.3" lengthAdjust="spacingAndGlyphs" text-anchor="start">87.20</text>
<rect x="866" y="63" width="2" height="1" fill="#fff"/>
<text x="870.7" y="66.3" fill="#fff" font-size="9.8" textLength="20.3" lengthAdjust="spacingAndGlyphs" text-anchor="start">85.50</text>
<rect x="866" y="94" width="2" height="1" fill="#fff"/>
<text x="870.7" y="97.9" fill="#fff" font-size="9.8" textLength="20.3" lengthAdjust="spacingAndGlyphs" text-anchor="start">83.85</text>
<rect x="866" y="126" width="2" height="1" fill="#fff"/>
<text x="870.7" y="129.7" fill="#fff" font-size="9.8" textLength="20.3" lengthAdjust="spacingAndGlyphs" text-anchor="start">82.20</text>
<rect x="866" y="159" width="2" height="1" fill="#fff"/>
<text x="870.7" y="162.1" fill="#fff" font-size="9.8" textLength="20.3" lengthAdjust="spacingAndGlyphs" text-anchor="start">80.55</text>
<rect x="866" y="190" width="2" height="1" fill="#fff"/>
<text x="870.7" y="193.8" fill="#fff" font-size="9.8" textLength="20.3" lengthAdjust="spacingAndGlyphs" text-anchor="start">78.90</text>
<rect x="866" y="255" width="2" height="1" fill="#fff"/>
<text x="870.7" y="258.2" fill="#fff" font-size="9.8" textLength="20.3" lengthAdjust="spacingAndGlyphs" text-anchor="start">75.60</text>
<rect x="866" y="308" width="2" height="1" fill="#fff"/>
<text x="868.8" y="270.1" fill="#fff" font-size="9.8" textLength="24.4" lengthAdjust="spacingAndGlyphs" text-anchor="start">0.9883</text>
<text x="868.8" y="311.1" fill="#fff" font-size="9.8" textLength="15.6" lengthAdjust="spacingAndGlyphs" text-anchor="start">0.00</text>
<text x="868.8" y="340.8" fill="#fff" font-size="9.8" textLength="27.4" lengthAdjust="spacingAndGlyphs" text-anchor="start">-0.7226</text>
<text x="869.4" y="356.9" fill="#fff" font-size="9.8" textLength="13" lengthAdjust="spacingAndGlyphs" text-anchor="start">100</text>
<text x="868.8" y="372.9" fill="#fff" font-size="9.8" textLength="8.4" lengthAdjust="spacingAndGlyphs" text-anchor="start">80</text>
<text x="868.6" y="442.2" fill="#fff" font-size="9.8" textLength="8.4" lengthAdjust="spacingAndGlyphs" text-anchor="start">20</text>
<text x="869.2" y="460.3" fill="#fff" font-size="9.8" textLength="4.2" lengthAdjust="spacingAndGlyphs" text-anchor="start">0</text>
<rect x="866.8" y="14" width="27.4" height="11" fill="#fff"/>
<text x="870.6" y="23.2" fill="#191970" font-size="9.8" textLength="20.4" lengthAdjust="spacingAndGlyphs" text-anchor="start">87.76</text>
<path d="M871.1 219.6h2.2M874.8 219.6h2.2M882 219.6h2.5M887 219.6h3.4" stroke="#e8e8f4" stroke-width="1" fill="none"/>
<rect x="866" y="223" width="1" height="1" fill="#fff"/>
<rect x="866.8" y="71.2" width="27.4" height="11" fill="#ffff00"/>
<text x="870.6" y="80.10000000000001" fill="#191970" font-size="9.8" textLength="20.4" lengthAdjust="spacingAndGlyphs" text-anchor="start">84.81</text>
<rect x="866.8" y="101.3" width="27.4" height="11" fill="#ffff00"/>
<text x="870.6" y="110.2" fill="#191970" font-size="9.8" textLength="20.4" lengthAdjust="spacingAndGlyphs" text-anchor="start">83.27</text>
<rect x="866.8" y="220" width="27.4" height="11" fill="#ffff00"/>
<text x="870.6" y="228.9" fill="#191970" font-size="9.8" textLength="20.4" lengthAdjust="spacingAndGlyphs" text-anchor="start">77.06</text>
<text x="2.8" y="476.4" fill="#fff" font-size="9.8" textLength="44" lengthAdjust="spacingAndGlyphs" text-anchor="start">11 Sep 2008</text>
<text x="58.2" y="476.4" fill="#fff" font-size="9.8" textLength="45.2" lengthAdjust="spacingAndGlyphs" text-anchor="start">15 Sep 16:00</text>
<text x="113.3" y="476.4" fill="#fff" font-size="9.8" textLength="45.2" lengthAdjust="spacingAndGlyphs" text-anchor="start">18 Sep 08:00</text>
<text x="168.4" y="476.4" fill="#fff" font-size="9.8" textLength="45.2" lengthAdjust="spacingAndGlyphs" text-anchor="start">23 Sep 00:00</text>
<text x="223.5" y="476.4" fill="#fff" font-size="9.8" textLength="45.2" lengthAdjust="spacingAndGlyphs" text-anchor="start">25 Sep 16:00</text>
<text x="278.6" y="476.4" fill="#fff" font-size="9.8" textLength="45.2" lengthAdjust="spacingAndGlyphs" text-anchor="start">30 Sep 08:00</text>
<text x="333.7" y="476.4" fill="#fff" font-size="9.8" textLength="41.2" lengthAdjust="spacingAndGlyphs" text-anchor="start">3 Oct 00:00</text>
<text x="388.8" y="476.4" fill="#fff" font-size="9.8" textLength="41.2" lengthAdjust="spacingAndGlyphs" text-anchor="start">7 Oct 16:00</text>
<text x="443.9" y="476.4" fill="#fff" font-size="9.8" textLength="45.2" lengthAdjust="spacingAndGlyphs" text-anchor="start">10 Oct 08:00</text>
<text x="499.0" y="476.4" fill="#fff" font-size="9.8" textLength="45.2" lengthAdjust="spacingAndGlyphs" text-anchor="start">15 Oct 00:00</text>
<text x="554.1" y="476.4" fill="#fff" font-size="9.8" textLength="45.2" lengthAdjust="spacingAndGlyphs" text-anchor="start">17 Oct 16:00</text>
<text x="609.2" y="476.4" fill="#fff" font-size="9.8" textLength="45.2" lengthAdjust="spacingAndGlyphs" text-anchor="start">22 Oct 08:00</text>
<text x="664.3" y="476.4" fill="#fff" font-size="9.8" textLength="45.2" lengthAdjust="spacingAndGlyphs" text-anchor="start">27 Oct 00:00</text>
</g>
<g font-family="'Liberation Sans', 'Noto Serif CJK SC', serif" font-size="19.4" font-weight="bold" fill="#fff" text-anchor="start">
<text x="711.5" y="196.3" textLength="135.5" lengthAdjust="spacingAndGlyphs">美指出现顶背离</text>
<text x="711.5" y="217.3" textLength="145" lengthAdjust="spacingAndGlyphs">迹象,如果顶背离</text>
<text x="711.5" y="238.3" textLength="135.5" lengthAdjust="spacingAndGlyphs">就此释放将会拉</text>
<text x="711.5" y="259.3" textLength="135.5" lengthAdjust="spacingAndGlyphs">动美制多日上涨</text>
<text x="711.5" y="280.3" textLength="145" lengthAdjust="spacingAndGlyphs">后的回调,我们认</text>
<text x="711.5" y="301.3" textLength="135" lengthAdjust="spacingAndGlyphs">为阶段上讲macd</text>
<text x="711.5" y="322.3" textLength="135.5" lengthAdjust="spacingAndGlyphs">的顶背离需要美</text>
<text x="711.5" y="343.3" textLength="145.5" lengthAdjust="spacingAndGlyphs">指回撤86.50的支</text>
<text x="711.5" y="364.3" textLength="145.5" lengthAdjust="spacingAndGlyphs">撑,如果能够守住</text>
<text x="711.5" y="385.3" textLength="145.5" lengthAdjust="spacingAndGlyphs">该支撑,美指继续</text>
<text x="711.5" y="406.3" textLength="135.5" lengthAdjust="spacingAndGlyphs">奔向90的动机依</text>
<text x="711.5" y="427.3" textLength="58" lengthAdjust="spacingAndGlyphs">然健康</text>
</g>
<text x="32.3" y="38.6" fill="#fff" font-family="'Liberation Sans', sans-serif" font-size="18.5" font-weight="bold" textLength="69.3" lengthAdjust="spacingAndGlyphs" text-anchor="start">USDX 4h</text>
<text x="675.8" y="66.4" fill="#fff" font-family="'Liberation Sans', sans-serif" font-size="16.5" font-weight="bold" textLength="48" lengthAdjust="spacingAndGlyphs" text-anchor="start">86.50</text>
</svg>
</body></html>
